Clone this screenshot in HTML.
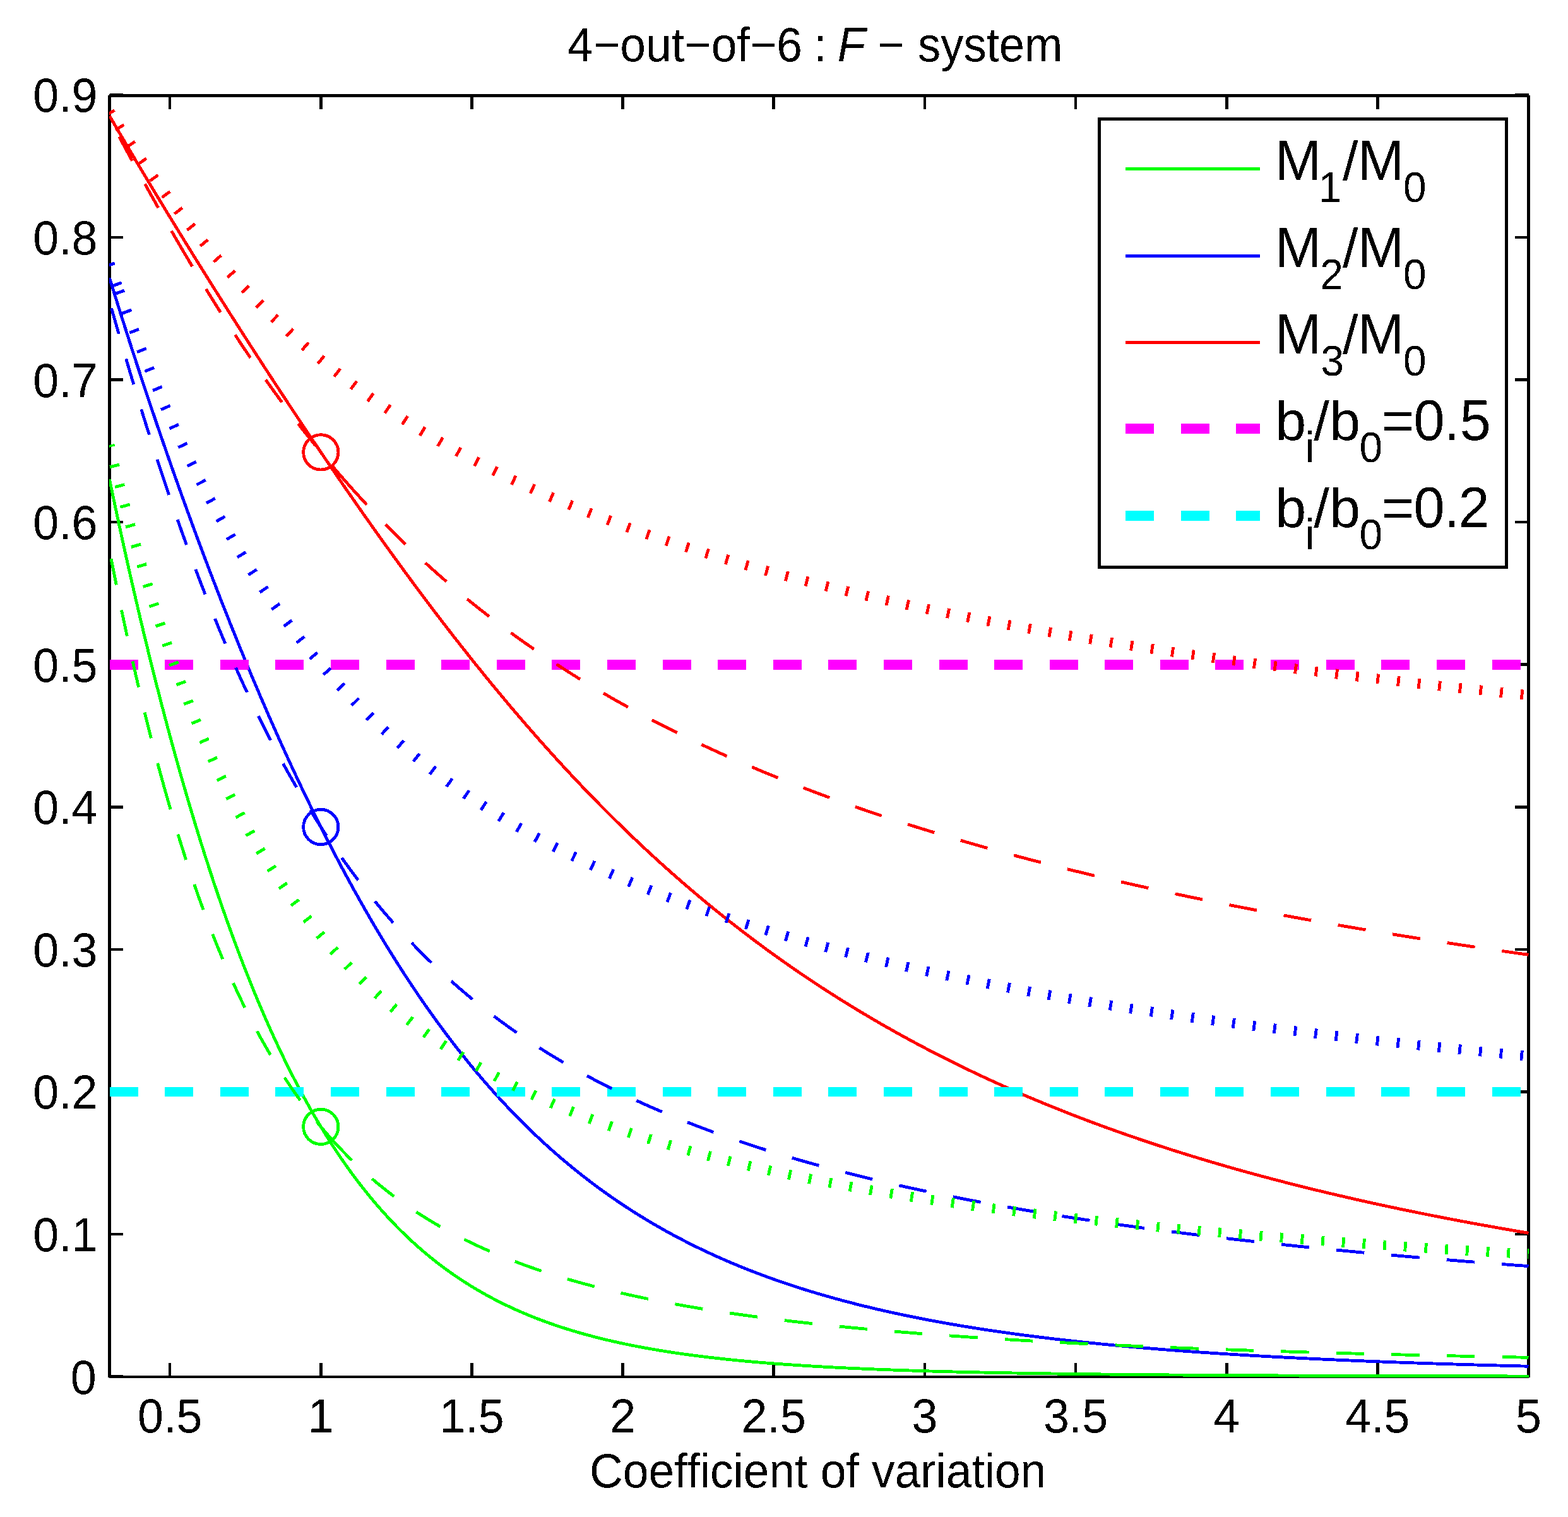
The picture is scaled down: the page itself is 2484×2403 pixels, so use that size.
<!DOCTYPE html>
<html><head><meta charset="utf-8"><title>4-out-of-6 : F - system</title><style>html,body{margin:0;padding:0;background:#fff;overflow:hidden}svg{display:block}</style></head><body>
<svg xmlns="http://www.w3.org/2000/svg" width="2484" height="2403" viewBox="0 0 2484 2403">
<defs><clipPath id="ax"><rect x="173" y="150" width="2249" height="2032"/></clipPath><filter id="bin" x="-5%" y="-20%" width="110%" height="140%" color-interpolation-filters="sRGB"><feComponentTransfer><feFuncA type="discrete" tableValues="0 1"/></feComponentTransfer></filter></defs>
<rect width="2484" height="2403" fill="#fff"/>
<g stroke="#000" fill="none" shape-rendering="crispEdges">
<path d="M173.5,151V2182M2421.5,151V2182" stroke-width="5"/>
<path d="M173,151.5H2422" stroke-width="5"/>
<path d="M173,2181H2422" stroke-width="4"/>
<path d="M269.16,2180.5V2159.0M269.16,151.5V173.0M508.31,2180.5V2159.0M508.31,151.5V173.0M747.46,2180.5V2159.0M747.46,151.5V173.0M986.61,2180.5V2159.0M986.61,151.5V173.0M1225.76,2180.5V2159.0M1225.76,151.5V173.0M1464.91,2180.5V2159.0M1464.91,151.5V173.0M1704.06,2180.5V2159.0M1704.06,151.5V173.0M1943.21,2180.5V2159.0M1943.21,151.5V173.0M2182.36,2180.5V2159.0M2182.36,151.5V173.0M2421.51,2180.5V2159.0M2421.51,151.5V173.0M173.5,2180.60H195.0M2421.5,2180.60H2400.0M173.5,1955.03H195.0M2421.5,1955.03H2400.0M173.5,1729.46H195.0M2421.5,1729.46H2400.0M173.5,1503.89H195.0M2421.5,1503.89H2400.0M173.5,1278.32H195.0M2421.5,1278.32H2400.0M173.5,1052.75H195.0M2421.5,1052.75H2400.0M173.5,827.18H195.0M2421.5,827.18H2400.0M173.5,601.61H195.0M2421.5,601.61H2400.0M173.5,376.04H195.0M2421.5,376.04H2400.0M173.5,150.47H195.0M2421.5,150.47H2400.0" stroke-width="4.6"/>
</g>
<g clip-path="url(#ax)" fill="none" stroke-linejoin="round" shape-rendering="crispEdges">
<polyline points="173.50,759.50 178.28,782.38 183.07,804.98 187.85,827.29 192.63,849.32 197.41,871.08 202.20,892.55 206.98,913.75 211.76,934.67 216.55,955.33 221.33,975.72 226.11,995.84 230.90,1015.70 235.68,1035.29 240.46,1054.63 245.25,1073.71 250.03,1092.53 254.81,1111.10 259.59,1129.42 264.38,1147.49 269.16,1165.32 273.94,1182.89 278.73,1200.23 283.51,1217.32 288.29,1234.18 293.08,1250.80 297.86,1267.18 302.64,1283.33 307.42,1299.24 312.21,1314.93 316.99,1330.39 321.77,1345.63 326.56,1360.64 331.34,1375.43 336.12,1390.00 340.91,1404.36 345.69,1418.49 350.47,1432.42 355.25,1446.13 360.04,1459.63 364.82,1472.92 369.60,1486.01 374.39,1498.89 379.17,1511.57 383.95,1524.05 388.74,1536.34 393.52,1548.42 398.30,1560.31 403.08,1572.01 407.87,1583.52 412.65,1594.84 417.43,1605.98 422.22,1616.93 427.00,1627.70 431.78,1638.29 436.57,1648.70 441.35,1658.93 446.13,1668.99 450.91,1678.88 455.70,1688.60 460.48,1698.15 465.26,1707.53 470.05,1716.75 474.83,1725.81 479.61,1734.71 484.39,1743.45 489.18,1752.04 493.96,1760.47 498.74,1768.75 503.53,1776.88 508.31,1784.86 513.09,1792.70 517.88,1800.40 522.66,1807.95 527.44,1815.36 532.23,1822.64 537.01,1829.78 541.79,1836.79 546.57,1843.66 551.36,1850.41 556.14,1857.03 560.92,1863.52 565.71,1869.89 570.49,1876.14 575.27,1882.27 580.05,1888.28 584.84,1894.18 589.62,1899.96 594.40,1905.62 599.19,1911.18 603.97,1916.63 608.75,1921.98 613.54,1927.21 618.32,1932.35 623.10,1937.38 627.88,1942.31 632.67,1947.15 637.45,1951.89 642.23,1956.53 647.02,1961.08 651.80,1965.54 656.58,1969.92 661.37,1974.20 666.15,1978.39 670.93,1982.51 675.72,1986.53 680.50,1990.48 685.28,1994.35 690.06,1998.13 694.85,2001.84 699.63,2005.48 704.41,2009.04 709.20,2012.52 713.98,2015.94 718.76,2019.29 723.54,2022.56 728.33,2025.77 733.11,2028.91 737.89,2031.99 742.68,2035.00 747.46,2037.96 752.24,2040.85 757.03,2043.68 761.81,2046.45 766.59,2049.16 771.38,2051.82 776.16,2054.42 780.94,2056.97 785.72,2059.46 790.51,2061.91 795.29,2064.30 800.07,2066.64 804.86,2068.93 809.64,2071.18 814.42,2073.37 819.20,2075.53 823.99,2077.63 828.77,2079.70 833.55,2081.71 838.34,2083.69 843.12,2085.63 847.90,2087.52 852.69,2089.38 857.47,2091.20 862.25,2092.97 867.03,2094.72 871.82,2096.42 876.60,2098.09 881.38,2099.72 886.17,2101.32 890.95,2102.89 895.73,2104.42 900.52,2105.92 905.30,2107.39 910.08,2108.83 914.87,2110.24 919.65,2111.62 924.43,2112.97 929.21,2114.30 934.00,2115.59 938.78,2116.86 943.56,2118.10 948.35,2119.32 953.13,2120.51 957.91,2121.67 962.69,2122.82 967.48,2123.93 972.26,2125.03 977.04,2126.10 981.83,2127.15 986.61,2128.18 991.39,2129.18 996.18,2130.17 1000.96,2131.13 1005.74,2132.08 1010.52,2133.00 1015.31,2133.91 1020.09,2134.80 1024.87,2135.67 1029.66,2136.52 1034.44,2137.36 1039.22,2138.17 1044.01,2138.97 1048.79,2139.76 1053.57,2140.52 1058.36,2141.28 1063.14,2142.01 1067.92,2142.74 1072.70,2143.44 1077.49,2144.14 1082.27,2144.81 1087.05,2145.48 1091.84,2146.13 1096.62,2146.77 1101.40,2147.39 1106.18,2148.01 1110.97,2148.61 1115.75,2149.20 1120.53,2149.77 1125.32,2150.34 1130.10,2150.89 1134.88,2151.43 1139.67,2151.96 1144.45,2152.48 1149.23,2152.99 1154.02,2153.50 1158.80,2153.99 1163.58,2154.47 1168.36,2154.94 1173.15,2155.40 1177.93,2155.85 1182.71,2156.29 1187.50,2156.73 1192.28,2157.16 1197.06,2157.57 1201.85,2157.98 1206.63,2158.38 1211.41,2158.78 1216.19,2159.16 1220.98,2159.54 1225.76,2159.91 1230.54,2160.28 1235.33,2160.63 1240.11,2160.98 1244.89,2161.33 1249.67,2161.66 1254.46,2161.99 1259.24,2162.32 1264.02,2162.63 1268.81,2162.94 1273.59,2163.25 1278.37,2163.55 1283.16,2163.84 1287.94,2164.13 1292.72,2164.41 1297.51,2164.69 1302.29,2164.96 1307.07,2165.23 1311.85,2165.49 1316.64,2165.75 1321.42,2166.00 1326.20,2166.24 1330.99,2166.49 1335.77,2166.72 1340.55,2166.96 1345.34,2167.19 1350.12,2167.41 1354.90,2167.63 1359.68,2167.85 1364.47,2168.06 1369.25,2168.27 1374.03,2168.47 1378.82,2168.67 1383.60,2168.87 1388.38,2169.06 1393.17,2169.25 1397.95,2169.44 1402.73,2169.62 1407.51,2169.80 1412.30,2169.98 1417.08,2170.15 1421.86,2170.32 1426.65,2170.49 1431.43,2170.65 1436.21,2170.81 1441.00,2170.97 1445.78,2171.12 1450.56,2171.28 1455.34,2171.43 1460.13,2171.57 1464.91,2171.72 1469.69,2171.86 1474.48,2172.00 1479.26,2172.13 1484.04,2172.27 1488.83,2172.40 1493.61,2172.53 1498.39,2172.66 1503.17,2172.78 1507.96,2172.90 1512.74,2173.02 1517.52,2173.14 1522.31,2173.26 1527.09,2173.37 1531.87,2173.48 1536.65,2173.59 1541.44,2173.70 1546.22,2173.81 1551.00,2173.91 1555.79,2174.02 1560.57,2174.12 1565.35,2174.22 1570.14,2174.31 1574.92,2174.41 1579.70,2174.50 1584.49,2174.60 1589.27,2174.69 1594.05,2174.78 1598.83,2174.86 1603.62,2174.95 1608.40,2175.04 1613.18,2175.12 1617.97,2175.20 1622.75,2175.28 1627.53,2175.36 1632.32,2175.44 1637.10,2175.52 1641.88,2175.59 1646.66,2175.66 1651.45,2175.74 1656.23,2175.81 1661.01,2175.88 1665.80,2175.95 1670.58,2176.02 1675.36,2176.08 1680.15,2176.15 1684.93,2176.21 1689.71,2176.28 1694.49,2176.34 1699.28,2176.40 1704.06,2176.46 1708.84,2176.52 1713.63,2176.58 1718.41,2176.64 1723.19,2176.70 1727.98,2176.75 1732.76,2176.81 1737.54,2176.86 1742.32,2176.91 1747.11,2176.97 1751.89,2177.02 1756.67,2177.07 1761.46,2177.12 1766.24,2177.17 1771.02,2177.21 1775.81,2177.26 1780.59,2177.31 1785.37,2177.36 1790.15,2177.40 1794.94,2177.44 1799.72,2177.49 1804.50,2177.53 1809.29,2177.57 1814.07,2177.62 1818.85,2177.66 1823.64,2177.70 1828.42,2177.74 1833.20,2177.78 1837.98,2177.82 1842.77,2177.85 1847.55,2177.89 1852.33,2177.93 1857.12,2177.96 1861.90,2178.00 1866.68,2178.03 1871.47,2178.07 1876.25,2178.10 1881.03,2178.14 1885.81,2178.17 1890.60,2178.20 1895.38,2178.23 1900.16,2178.27 1904.95,2178.30 1909.73,2178.33 1914.51,2178.36 1919.30,2178.39 1924.08,2178.42 1928.86,2178.45 1933.64,2178.47 1938.43,2178.50 1943.21,2178.53 1947.99,2178.56 1952.78,2178.58 1957.56,2178.61 1962.34,2178.64 1967.12,2178.66 1971.91,2178.69 1976.69,2178.71 1981.47,2178.74 1986.26,2178.76 1991.04,2178.78 1995.82,2178.81 2000.61,2178.83 2005.39,2178.85 2010.17,2178.87 2014.96,2178.90 2019.74,2178.92 2024.52,2178.94 2029.30,2178.96 2034.09,2178.98 2038.87,2179.00 2043.65,2179.02 2048.44,2179.04 2053.22,2179.06 2058.00,2179.08 2062.78,2179.10 2067.57,2179.12 2072.35,2179.14 2077.13,2179.15 2081.92,2179.17 2086.70,2179.19 2091.48,2179.21 2096.27,2179.23 2101.05,2179.24 2105.83,2179.26 2110.61,2179.28 2115.40,2179.29 2120.18,2179.31 2124.96,2179.32 2129.75,2179.34 2134.53,2179.35 2139.31,2179.37 2144.10,2179.38 2148.88,2179.40 2153.66,2179.41 2158.45,2179.43 2163.23,2179.44 2168.01,2179.46 2172.79,2179.47 2177.58,2179.48 2182.36,2179.50 2187.14,2179.51 2191.93,2179.52 2196.71,2179.54 2201.49,2179.55 2206.28,2179.56 2211.06,2179.57 2215.84,2179.59 2220.62,2179.60 2225.41,2179.61 2230.19,2179.62 2234.97,2179.63 2239.76,2179.64 2244.54,2179.65 2249.32,2179.67 2254.11,2179.68 2258.89,2179.69 2263.67,2179.70 2268.45,2179.71 2273.24,2179.72 2278.02,2179.73 2282.80,2179.74 2287.59,2179.75 2292.37,2179.76 2297.15,2179.77 2301.93,2179.78 2306.72,2179.79 2311.50,2179.80 2316.28,2179.81 2321.07,2179.81 2325.85,2179.82 2330.63,2179.83 2335.42,2179.84 2340.20,2179.85 2344.98,2179.86 2349.76,2179.87 2354.55,2179.87 2359.33,2179.88 2364.11,2179.89 2368.90,2179.90 2373.68,2179.91 2378.46,2179.91 2383.25,2179.92 2388.03,2179.93 2392.81,2179.94 2397.60,2179.94 2402.38,2179.95 2407.16,2179.96 2411.94,2179.97 2416.73,2179.97 2421.51,2179.98" stroke="#0f0" stroke-width="4.85"/>
<polyline points="173.50,440.27 178.28,455.74 183.07,471.11 187.85,486.39 192.63,501.56 197.41,516.64 202.20,531.63 206.98,546.52 211.76,561.31 216.55,576.01 221.33,590.62 226.11,605.13 230.90,619.55 235.68,633.88 240.46,648.12 245.25,662.27 250.03,676.33 254.81,690.30 259.59,704.18 264.38,717.97 269.16,731.68 273.94,745.29 278.73,758.82 283.51,772.26 288.29,785.62 293.08,798.89 297.86,812.07 302.64,825.17 307.42,838.18 312.21,851.11 316.99,863.96 321.77,876.72 326.56,889.39 331.34,901.98 336.12,914.49 340.91,926.91 345.69,939.25 350.47,951.51 355.25,963.69 360.04,975.78 364.82,987.79 369.60,999.71 374.39,1011.56 379.17,1023.32 383.95,1035.00 388.74,1046.59 393.52,1058.11 398.30,1069.54 403.08,1080.89 407.87,1092.16 412.65,1103.35 417.43,1114.45 422.22,1125.48 427.00,1136.42 431.78,1147.28 436.57,1158.06 441.35,1168.75 446.13,1179.37 450.91,1189.90 455.70,1200.36 460.48,1210.73 465.26,1221.02 470.05,1231.23 474.83,1241.35 479.61,1251.40 484.39,1261.37 489.18,1271.25 493.96,1281.05 498.74,1290.78 503.53,1300.42 508.31,1309.98 513.09,1319.46 517.88,1328.86 522.66,1338.18 527.44,1347.42 532.23,1356.58 537.01,1365.66 541.79,1374.66 546.57,1383.58 551.36,1392.42 556.14,1401.18 560.92,1409.86 565.71,1418.46 570.49,1426.99 575.27,1435.43 580.05,1443.80 584.84,1452.09 589.62,1460.30 594.40,1468.43 599.19,1476.48 603.97,1484.46 608.75,1492.36 613.54,1500.19 618.32,1507.93 623.10,1515.61 627.88,1523.20 632.67,1530.72 637.45,1538.17 642.23,1545.54 647.02,1552.83 651.80,1560.06 656.58,1567.20 661.37,1574.28 666.15,1581.28 670.93,1588.21 675.72,1595.07 680.50,1601.85 685.28,1608.56 690.06,1615.21 694.85,1621.78 699.63,1628.28 704.41,1634.71 709.20,1641.07 713.98,1647.36 718.76,1653.59 723.54,1659.75 728.33,1665.84 733.11,1671.86 737.89,1677.81 742.68,1683.70 747.46,1689.53 752.24,1695.29 757.03,1700.98 761.81,1706.61 766.59,1712.18 771.38,1717.68 776.16,1723.12 780.94,1728.50 785.72,1733.82 790.51,1739.07 795.29,1744.27 800.07,1749.40 804.86,1754.48 809.64,1759.50 814.42,1764.45 819.20,1769.35 823.99,1774.20 828.77,1778.98 833.55,1783.71 838.34,1788.39 843.12,1793.01 847.90,1797.57 852.69,1802.08 857.47,1806.53 862.25,1810.94 867.03,1815.28 871.82,1819.58 876.60,1823.83 881.38,1828.02 886.17,1832.17 890.95,1836.26 895.73,1840.30 900.52,1844.30 905.30,1848.25 910.08,1852.15 914.87,1856.00 919.65,1859.80 924.43,1863.56 929.21,1867.27 934.00,1870.94 938.78,1874.56 943.56,1878.13 948.35,1881.67 953.13,1885.16 957.91,1888.60 962.69,1892.01 967.48,1895.37 972.26,1898.69 977.04,1901.97 981.83,1905.20 986.61,1908.40 991.39,1911.56 996.18,1914.68 1000.96,1917.76 1005.74,1920.80 1010.52,1923.81 1015.31,1926.77 1020.09,1929.70 1024.87,1932.60 1029.66,1935.46 1034.44,1938.28 1039.22,1941.06 1044.01,1943.82 1048.79,1946.53 1053.57,1949.22 1058.36,1951.87 1063.14,1954.48 1067.92,1957.07 1072.70,1959.62 1077.49,1962.14 1082.27,1964.63 1087.05,1967.08 1091.84,1969.51 1096.62,1971.91 1101.40,1974.27 1106.18,1976.61 1110.97,1978.92 1115.75,1981.20 1120.53,1983.45 1125.32,1985.67 1130.10,1987.86 1134.88,1990.03 1139.67,1992.17 1144.45,1994.28 1149.23,1996.37 1154.02,1998.43 1158.80,2000.46 1163.58,2002.47 1168.36,2004.46 1173.15,2006.42 1177.93,2008.35 1182.71,2010.26 1187.50,2012.15 1192.28,2014.01 1197.06,2015.85 1201.85,2017.67 1206.63,2019.47 1211.41,2021.24 1216.19,2022.99 1220.98,2024.72 1225.76,2026.43 1230.54,2028.11 1235.33,2029.78 1240.11,2031.42 1244.89,2033.05 1249.67,2034.65 1254.46,2036.24 1259.24,2037.80 1264.02,2039.35 1268.81,2040.87 1273.59,2042.38 1278.37,2043.87 1283.16,2045.34 1287.94,2046.80 1292.72,2048.23 1297.51,2049.65 1302.29,2051.05 1307.07,2052.43 1311.85,2053.80 1316.64,2055.15 1321.42,2056.48 1326.20,2057.80 1330.99,2059.10 1335.77,2060.38 1340.55,2061.65 1345.34,2062.91 1350.12,2064.14 1354.90,2065.37 1359.68,2066.58 1364.47,2067.77 1369.25,2068.95 1374.03,2070.12 1378.82,2071.27 1383.60,2072.40 1388.38,2073.53 1393.17,2074.64 1397.95,2075.74 1402.73,2076.82 1407.51,2077.89 1412.30,2078.95 1417.08,2079.99 1421.86,2081.03 1426.65,2082.05 1431.43,2083.06 1436.21,2084.05 1441.00,2085.04 1445.78,2086.01 1450.56,2086.97 1455.34,2087.92 1460.13,2088.86 1464.91,2089.79 1469.69,2090.70 1474.48,2091.61 1479.26,2092.50 1484.04,2093.39 1488.83,2094.26 1493.61,2095.13 1498.39,2095.98 1503.17,2096.82 1507.96,2097.66 1512.74,2098.48 1517.52,2099.30 1522.31,2100.10 1527.09,2100.90 1531.87,2101.69 1536.65,2102.46 1541.44,2103.23 1546.22,2103.99 1551.00,2104.74 1555.79,2105.48 1560.57,2106.22 1565.35,2106.94 1570.14,2107.66 1574.92,2108.37 1579.70,2109.07 1584.49,2109.76 1589.27,2110.45 1594.05,2111.12 1598.83,2111.79 1603.62,2112.45 1608.40,2113.11 1613.18,2113.76 1617.97,2114.39 1622.75,2115.03 1627.53,2115.65 1632.32,2116.27 1637.10,2116.88 1641.88,2117.48 1646.66,2118.08 1651.45,2118.67 1656.23,2119.26 1661.01,2119.83 1665.80,2120.40 1670.58,2120.97 1675.36,2121.53 1680.15,2122.08 1684.93,2122.63 1689.71,2123.17 1694.49,2123.70 1699.28,2124.23 1704.06,2124.75 1708.84,2125.27 1713.63,2125.78 1718.41,2126.28 1723.19,2126.78 1727.98,2127.28 1732.76,2127.77 1737.54,2128.25 1742.32,2128.73 1747.11,2129.20 1751.89,2129.67 1756.67,2130.13 1761.46,2130.59 1766.24,2131.04 1771.02,2131.49 1775.81,2131.93 1780.59,2132.37 1785.37,2132.80 1790.15,2133.23 1794.94,2133.66 1799.72,2134.08 1804.50,2134.49 1809.29,2134.90 1814.07,2135.31 1818.85,2135.71 1823.64,2136.11 1828.42,2136.50 1833.20,2136.89 1837.98,2137.28 1842.77,2137.66 1847.55,2138.04 1852.33,2138.41 1857.12,2138.78 1861.90,2139.15 1866.68,2139.51 1871.47,2139.87 1876.25,2140.22 1881.03,2140.57 1885.81,2140.92 1890.60,2141.26 1895.38,2141.60 1900.16,2141.94 1904.95,2142.27 1909.73,2142.60 1914.51,2142.92 1919.30,2143.25 1924.08,2143.57 1928.86,2143.88 1933.64,2144.19 1938.43,2144.50 1943.21,2144.81 1947.99,2145.11 1952.78,2145.41 1957.56,2145.71 1962.34,2146.00 1967.12,2146.29 1971.91,2146.58 1976.69,2146.87 1981.47,2147.15 1986.26,2147.43 1991.04,2147.71 1995.82,2147.98 2000.61,2148.25 2005.39,2148.52 2010.17,2148.78 2014.96,2149.05 2019.74,2149.31 2024.52,2149.57 2029.30,2149.82 2034.09,2150.07 2038.87,2150.32 2043.65,2150.57 2048.44,2150.82 2053.22,2151.06 2058.00,2151.30 2062.78,2151.54 2067.57,2151.77 2072.35,2152.01 2077.13,2152.24 2081.92,2152.47 2086.70,2152.69 2091.48,2152.92 2096.27,2153.14 2101.05,2153.36 2105.83,2153.58 2110.61,2153.80 2115.40,2154.01 2120.18,2154.22 2124.96,2154.43 2129.75,2154.64 2134.53,2154.84 2139.31,2155.05 2144.10,2155.25 2148.88,2155.45 2153.66,2155.65 2158.45,2155.84 2163.23,2156.04 2168.01,2156.23 2172.79,2156.42 2177.58,2156.61 2182.36,2156.80 2187.14,2156.98 2191.93,2157.16 2196.71,2157.35 2201.49,2157.53 2206.28,2157.70 2211.06,2157.88 2215.84,2158.06 2220.62,2158.23 2225.41,2158.40 2230.19,2158.57 2234.97,2158.74 2239.76,2158.91 2244.54,2159.07 2249.32,2159.24 2254.11,2159.40 2258.89,2159.56 2263.67,2159.72 2268.45,2159.88 2273.24,2160.03 2278.02,2160.19 2282.80,2160.34 2287.59,2160.49 2292.37,2160.64 2297.15,2160.79 2301.93,2160.94 2306.72,2161.09 2311.50,2161.23 2316.28,2161.38 2321.07,2161.52 2325.85,2161.66 2330.63,2161.80 2335.42,2161.94 2340.20,2162.08 2344.98,2162.21 2349.76,2162.35 2354.55,2162.48 2359.33,2162.62 2364.11,2162.75 2368.90,2162.88 2373.68,2163.01 2378.46,2163.14 2383.25,2163.26 2388.03,2163.39 2392.81,2163.51 2397.60,2163.64 2402.38,2163.76 2407.16,2163.88 2411.94,2164.00 2416.73,2164.12 2421.51,2164.24" stroke="#00f" stroke-width="4.85"/>
<polyline points="173.50,183.54 178.28,191.75 183.07,199.94 187.85,208.10 192.63,216.25 197.41,224.37 202.20,232.47 206.98,240.55 211.76,248.62 216.55,256.66 221.33,264.68 226.11,272.68 230.90,280.66 235.68,288.63 240.46,296.58 245.25,304.50 250.03,312.41 254.81,320.30 259.59,328.18 264.38,336.04 269.16,343.88 273.94,351.70 278.73,359.51 283.51,367.30 288.29,375.07 293.08,382.83 297.86,390.57 302.64,398.30 307.42,406.01 312.21,413.70 316.99,421.38 321.77,429.04 326.56,436.69 331.34,444.33 336.12,451.95 340.91,459.55 345.69,467.14 350.47,474.71 355.25,482.27 360.04,489.82 364.82,497.35 369.60,504.87 374.39,512.37 379.17,519.85 383.95,527.33 388.74,534.78 393.52,542.23 398.30,549.66 403.08,557.07 407.87,564.47 412.65,571.86 417.43,579.23 422.22,586.58 427.00,593.93 431.78,601.25 436.57,608.56 441.35,615.86 446.13,623.14 450.91,630.41 455.70,637.66 460.48,644.89 465.26,652.11 470.05,659.32 474.83,666.51 479.61,673.68 484.39,680.84 489.18,687.98 493.96,695.10 498.74,702.21 503.53,709.30 508.31,716.37 513.09,723.43 517.88,730.47 522.66,737.49 527.44,744.50 532.23,751.49 537.01,758.46 541.79,765.41 546.57,772.34 551.36,779.26 556.14,786.15 560.92,793.03 565.71,799.89 570.49,806.73 575.27,813.55 580.05,820.35 584.84,827.13 589.62,833.89 594.40,840.63 599.19,847.35 603.97,854.05 608.75,860.73 613.54,867.39 618.32,874.03 623.10,880.65 627.88,887.24 632.67,893.81 637.45,900.36 642.23,906.89 647.02,913.40 651.80,919.88 656.58,926.35 661.37,932.79 666.15,939.20 670.93,945.59 675.72,951.96 680.50,958.31 685.28,964.63 690.06,970.93 694.85,977.21 699.63,983.46 704.41,989.68 709.20,995.89 713.98,1002.06 718.76,1008.22 723.54,1014.35 728.33,1020.45 733.11,1026.53 737.89,1032.58 742.68,1038.61 747.46,1044.61 752.24,1050.59 757.03,1056.54 761.81,1062.46 766.59,1068.36 771.38,1074.24 776.16,1080.08 780.94,1085.91 785.72,1091.70 790.51,1097.47 795.29,1103.21 800.07,1108.93 804.86,1114.62 809.64,1120.28 814.42,1125.92 819.20,1131.53 823.99,1137.11 828.77,1142.67 833.55,1148.19 838.34,1153.70 843.12,1159.17 847.90,1164.62 852.69,1170.04 857.47,1175.43 862.25,1180.80 867.03,1186.14 871.82,1191.45 876.60,1196.74 881.38,1202.00 886.17,1207.23 890.95,1212.43 895.73,1217.61 900.52,1222.76 905.30,1227.88 910.08,1232.98 914.87,1238.05 919.65,1243.09 924.43,1248.11 929.21,1253.09 934.00,1258.05 938.78,1262.99 943.56,1267.89 948.35,1272.77 953.13,1277.63 957.91,1282.45 962.69,1287.25 967.48,1292.03 972.26,1296.77 977.04,1301.49 981.83,1306.18 986.61,1310.85 991.39,1315.49 996.18,1320.10 1000.96,1324.69 1005.74,1329.25 1010.52,1333.79 1015.31,1338.30 1020.09,1342.78 1024.87,1347.23 1029.66,1351.67 1034.44,1356.07 1039.22,1360.45 1044.01,1364.80 1048.79,1369.13 1053.57,1373.43 1058.36,1377.71 1063.14,1381.96 1067.92,1386.19 1072.70,1390.39 1077.49,1394.57 1082.27,1398.72 1087.05,1402.85 1091.84,1406.95 1096.62,1411.03 1101.40,1415.08 1106.18,1419.11 1110.97,1423.11 1115.75,1427.09 1120.53,1431.05 1125.32,1434.98 1130.10,1438.89 1134.88,1442.78 1139.67,1446.64 1144.45,1450.47 1149.23,1454.29 1154.02,1458.08 1158.80,1461.84 1163.58,1465.59 1168.36,1469.31 1173.15,1473.01 1177.93,1476.68 1182.71,1480.33 1187.50,1483.96 1192.28,1487.57 1197.06,1491.16 1201.85,1494.72 1206.63,1498.26 1211.41,1501.78 1216.19,1505.28 1220.98,1508.75 1225.76,1512.21 1230.54,1515.64 1235.33,1519.05 1240.11,1522.44 1244.89,1525.81 1249.67,1529.15 1254.46,1532.48 1259.24,1535.79 1264.02,1539.07 1268.81,1542.34 1273.59,1545.58 1278.37,1548.80 1283.16,1552.01 1287.94,1555.19 1292.72,1558.35 1297.51,1561.50 1302.29,1564.62 1307.07,1567.72 1311.85,1570.81 1316.64,1573.87 1321.42,1576.92 1326.20,1579.95 1330.99,1582.95 1335.77,1585.94 1340.55,1588.91 1345.34,1591.86 1350.12,1594.80 1354.90,1597.71 1359.68,1600.61 1364.47,1603.48 1369.25,1606.34 1374.03,1609.19 1378.82,1612.01 1383.60,1614.82 1388.38,1617.60 1393.17,1620.38 1397.95,1623.13 1402.73,1625.86 1407.51,1628.58 1412.30,1631.29 1417.08,1633.97 1421.86,1636.64 1426.65,1639.29 1431.43,1641.92 1436.21,1644.54 1441.00,1647.14 1445.78,1649.73 1450.56,1652.30 1455.34,1654.85 1460.13,1657.39 1464.91,1659.91 1469.69,1662.41 1474.48,1664.90 1479.26,1667.38 1484.04,1669.84 1488.83,1672.28 1493.61,1674.71 1498.39,1677.12 1503.17,1679.52 1507.96,1681.90 1512.74,1684.27 1517.52,1686.62 1522.31,1688.96 1527.09,1691.28 1531.87,1693.59 1536.65,1695.89 1541.44,1698.17 1546.22,1700.44 1551.00,1702.69 1555.79,1704.93 1560.57,1707.15 1565.35,1709.36 1570.14,1711.56 1574.92,1713.75 1579.70,1715.92 1584.49,1718.07 1589.27,1720.22 1594.05,1722.35 1598.83,1724.46 1603.62,1726.57 1608.40,1728.66 1613.18,1730.74 1617.97,1732.80 1622.75,1734.86 1627.53,1736.90 1632.32,1738.92 1637.10,1740.94 1641.88,1742.94 1646.66,1744.93 1651.45,1746.91 1656.23,1748.88 1661.01,1750.83 1665.80,1752.78 1670.58,1754.71 1675.36,1756.63 1680.15,1758.53 1684.93,1760.43 1689.71,1762.31 1694.49,1764.19 1699.28,1766.05 1704.06,1767.90 1708.84,1769.74 1713.63,1771.57 1718.41,1773.38 1723.19,1775.19 1727.98,1776.99 1732.76,1778.77 1737.54,1780.54 1742.32,1782.31 1747.11,1784.06 1751.89,1785.80 1756.67,1787.53 1761.46,1789.26 1766.24,1790.97 1771.02,1792.67 1775.81,1794.36 1780.59,1796.04 1785.37,1797.71 1790.15,1799.37 1794.94,1801.02 1799.72,1802.66 1804.50,1804.29 1809.29,1805.92 1814.07,1807.53 1818.85,1809.13 1823.64,1810.72 1828.42,1812.31 1833.20,1813.88 1837.98,1815.45 1842.77,1817.00 1847.55,1818.55 1852.33,1820.09 1857.12,1821.62 1861.90,1823.14 1866.68,1824.65 1871.47,1826.15 1876.25,1827.64 1881.03,1829.13 1885.81,1830.61 1890.60,1832.07 1895.38,1833.53 1900.16,1834.98 1904.95,1836.43 1909.73,1837.86 1914.51,1839.29 1919.30,1840.70 1924.08,1842.11 1928.86,1843.51 1933.64,1844.91 1938.43,1846.29 1943.21,1847.67 1947.99,1849.04 1952.78,1850.40 1957.56,1851.76 1962.34,1853.10 1967.12,1854.44 1971.91,1855.77 1976.69,1857.09 1981.47,1858.41 1986.26,1859.72 1991.04,1861.02 1995.82,1862.31 2000.61,1863.60 2005.39,1864.88 2010.17,1866.15 2014.96,1867.42 2019.74,1868.67 2024.52,1869.92 2029.30,1871.17 2034.09,1872.40 2038.87,1873.63 2043.65,1874.86 2048.44,1876.07 2053.22,1877.28 2058.00,1878.49 2062.78,1879.68 2067.57,1880.87 2072.35,1882.05 2077.13,1883.23 2081.92,1884.40 2086.70,1885.56 2091.48,1886.72 2096.27,1887.87 2101.05,1889.01 2105.83,1890.15 2110.61,1891.28 2115.40,1892.41 2120.18,1893.53 2124.96,1894.64 2129.75,1895.75 2134.53,1896.85 2139.31,1897.94 2144.10,1899.03 2148.88,1900.12 2153.66,1901.19 2158.45,1902.26 2163.23,1903.33 2168.01,1904.39 2172.79,1905.44 2177.58,1906.49 2182.36,1907.54 2187.14,1908.57 2191.93,1909.60 2196.71,1910.63 2201.49,1911.65 2206.28,1912.67 2211.06,1913.68 2215.84,1914.68 2220.62,1915.68 2225.41,1916.67 2230.19,1917.66 2234.97,1918.64 2239.76,1919.62 2244.54,1920.60 2249.32,1921.56 2254.11,1922.53 2258.89,1923.48 2263.67,1924.44 2268.45,1925.38 2273.24,1926.33 2278.02,1927.26 2282.80,1928.20 2287.59,1929.12 2292.37,1930.05 2297.15,1930.97 2301.93,1931.88 2306.72,1932.79 2311.50,1933.69 2316.28,1934.59 2321.07,1935.49 2325.85,1936.38 2330.63,1937.26 2335.42,1938.14 2340.20,1939.02 2344.98,1939.89 2349.76,1940.76 2354.55,1941.62 2359.33,1942.48 2364.11,1943.33 2368.90,1944.18 2373.68,1945.03 2378.46,1945.87 2383.25,1946.70 2388.03,1947.54 2392.81,1948.37 2397.60,1949.19 2402.38,1950.01 2407.16,1950.82 2411.94,1951.64 2416.73,1952.44 2421.51,1953.25" stroke="#f00" stroke-width="4.85"/>
<path d="M173.50,1052.75H2421.51" stroke="#f0f" stroke-width="15.8" stroke-dasharray="45 42.6"/>
<path d="M173.50,1729.46H2421.51" stroke="#0ff" stroke-width="15.8" stroke-dasharray="45 42.6"/>
<path d="M131.78,640.45 132.24,643.21 132.70,645.98 133.17,648.74 133.63,651.51 134.10,654.28 134.56,657.04 135.03,659.81 135.50,662.57 135.97,665.34 136.43,668.10 136.90,670.87 137.38,673.63 137.85,676.40 138.32,679.16 138.79,681.93M145.75,722.08 146.24,724.85 146.73,727.61 147.21,730.37 147.70,733.14 148.19,735.90 148.68,738.66 149.17,741.42 149.66,744.19 150.15,746.95 150.65,749.71 151.14,752.47 151.64,755.23 152.13,758.00 152.63,760.76 153.13,763.52M160.46,803.63 160.97,806.39 161.48,809.15 162.00,811.91 162.51,814.67 163.03,817.43 163.55,820.18 164.06,822.94 164.58,825.70 165.10,828.46 165.62,831.22 166.14,833.98 166.67,836.74 167.19,839.49 167.72,842.25 168.24,845.01M176.00,885.06 176.55,887.81 177.09,890.57 177.63,893.33 178.18,896.08 178.73,898.84 179.28,901.59 179.83,904.34 180.38,907.10 180.93,909.85 181.48,912.61 182.04,915.36 182.59,918.11 183.15,920.87 183.70,923.62 184.26,926.37M192.52,966.35 193.10,969.10 193.68,971.85 194.26,974.60 194.84,977.35 195.43,980.10 196.01,982.85 196.60,985.60 197.18,988.35 197.77,991.10 198.36,993.84 198.96,996.59 199.55,999.34 200.14,1002.09 200.74,1004.83 201.34,1007.58M210.17,1047.47 210.79,1050.21 211.42,1052.96 212.04,1055.70 212.66,1058.44 213.29,1061.18 213.92,1063.93 214.55,1066.67 215.18,1069.41 215.81,1072.15 216.45,1074.89 217.08,1077.63 217.72,1080.37 218.36,1083.11 219.00,1085.85 219.64,1088.59M229.16,1128.36 229.83,1131.10 230.51,1133.84 231.18,1136.57 231.85,1139.31 232.53,1142.04 233.21,1144.77 233.89,1147.51 234.57,1150.24 235.26,1152.97 235.94,1155.70 236.63,1158.43 237.32,1161.17 238.01,1163.90 238.71,1166.63 239.40,1169.36M249.74,1208.98 250.47,1211.70 251.20,1214.43 251.93,1217.15 252.67,1219.87 253.41,1222.60 254.14,1225.32 254.89,1228.04 255.63,1230.76 256.38,1233.48 257.12,1236.20 257.88,1238.92 258.63,1241.64 259.38,1244.36 260.14,1247.08 260.90,1249.79M258.59,1241.50 259.34,1244.22 260.10,1246.94 260.86,1249.66 261.63,1252.37 262.39,1255.09 263.16,1257.81 263.93,1260.52 264.70,1263.24 265.47,1265.95 266.25,1268.67 267.03,1271.38 267.81,1274.09 268.60,1276.81 269.38,1279.52 270.17,1282.23M281.95,1321.56 282.78,1324.26 283.62,1326.96 284.46,1329.66 285.30,1332.37 286.14,1335.07 286.99,1337.77 287.84,1340.46 288.69,1343.16 289.55,1345.86 290.41,1348.55 291.27,1351.25 292.13,1353.94 293.00,1356.64 293.87,1359.33 294.74,1362.02M307.82,1401.05 308.74,1403.73 309.67,1406.41 310.61,1409.09 311.54,1411.77 312.49,1414.44 313.43,1417.12 314.38,1419.80 315.33,1422.47 316.29,1425.14 317.24,1427.81 318.21,1430.48 319.17,1433.15 320.14,1435.82 321.12,1438.48 322.09,1441.14M336.77,1479.75 337.81,1482.40 338.86,1485.05 339.91,1487.70 340.97,1490.35 342.03,1492.99 343.10,1495.63 344.17,1498.28 345.24,1500.91 346.32,1503.55 347.40,1506.19 348.49,1508.82 349.58,1511.45 350.68,1514.08 351.78,1516.71 352.89,1519.33M369.56,1557.34 370.75,1559.95 371.94,1562.55 373.14,1565.15 374.35,1567.75 375.56,1570.35 376.78,1572.95 378.00,1575.54 379.23,1578.13 380.46,1580.71 381.70,1583.30 382.95,1585.88 384.20,1588.46 385.45,1591.03 386.71,1593.60 387.98,1596.17M407.15,1633.30 408.52,1635.84 409.90,1638.38 411.29,1640.91 412.68,1643.44 414.08,1645.97 415.49,1648.49 416.90,1651.01 418.32,1653.52 419.75,1656.03 421.18,1658.54 422.62,1661.05 424.07,1663.54 425.52,1666.04 426.98,1668.53 428.45,1671.02M450.72,1706.83 452.32,1709.27 453.93,1711.70 455.54,1714.14 457.17,1716.56 458.80,1718.98 460.44,1721.40 462.09,1723.81 463.75,1726.21 465.41,1728.61 467.08,1731.00 468.76,1733.39 470.45,1735.77 472.15,1738.15 473.85,1740.52 475.57,1742.88M501.58,1776.71 503.46,1779.00 505.34,1781.29 507.22,1783.56 509.12,1785.83 511.03,1788.09 512.94,1790.35 514.87,1792.59 516.80,1794.83 518.74,1797.06 520.70,1799.29 522.66,1801.50 524.63,1803.71 526.61,1805.91 528.59,1808.10 530.59,1810.28M526.81,1806.13 528.80,1808.33 530.81,1810.52 532.82,1812.70 534.84,1814.87 536.87,1817.03 538.91,1819.19 540.96,1821.33 543.02,1823.47 545.08,1825.60 547.16,1827.72 549.24,1829.83 551.34,1831.93 553.44,1834.02 555.55,1836.11 557.67,1838.18M589.48,1867.26 591.74,1869.18 594.00,1871.10 596.27,1873.00 598.56,1874.90 600.85,1876.78 603.14,1878.66 605.45,1880.52 607.77,1882.38 610.09,1884.23 612.42,1886.06 614.76,1887.88 617.11,1889.70 619.46,1891.50 621.83,1893.30 624.20,1895.08M659.49,1919.80 661.98,1921.42 664.47,1923.03 666.97,1924.63 669.48,1926.22 671.99,1927.79 674.51,1929.36 677.03,1930.92 679.56,1932.47 682.10,1934.00 684.65,1935.53 687.20,1937.04 689.75,1938.55 692.32,1940.04 694.88,1941.53 697.46,1943.00M735.49,1963.26 738.15,1964.58 740.81,1965.89 743.48,1967.19 746.15,1968.48 748.83,1969.76 751.51,1971.02 754.20,1972.28 756.89,1973.53 759.58,1974.78 762.28,1976.01 764.98,1977.23 767.69,1978.44 770.40,1979.65 773.12,1980.84 775.84,1982.03M815.76,1998.25 818.54,1999.30 821.32,2000.34 824.10,2001.38 826.88,2002.40 829.67,2003.42 832.45,2004.43 835.25,2005.44 838.04,2006.43 840.84,2007.42 843.64,2008.40 846.44,2009.37 849.25,2010.33 852.06,2011.29 854.87,2012.24 857.68,2013.18M898.81,2026.05 901.66,2026.88 904.51,2027.71 907.36,2028.53 910.21,2029.34 913.07,2030.15 915.92,2030.95 918.78,2031.75 921.64,2032.54 924.50,2033.32 927.37,2034.09 930.23,2034.87 933.10,2035.63 935.97,2036.39 938.84,2037.14 941.71,2037.89M983.57,2048.11 986.47,2048.78 989.36,2049.43 992.25,2050.09 995.15,2050.74 998.04,2051.38 1000.94,2052.02 1003.84,2052.65 1006.74,2053.28 1009.64,2053.90 1012.54,2054.52 1015.44,2055.14 1018.35,2055.75 1021.25,2056.35 1024.16,2056.95 1027.06,2057.55M1069.38,2065.74 1072.29,2066.27 1075.21,2066.80 1078.13,2067.32 1081.05,2067.84 1083.98,2068.36 1086.90,2068.87 1089.82,2069.38 1092.74,2069.89 1095.67,2070.39 1098.59,2070.89 1101.52,2071.38 1104.44,2071.88 1107.37,2072.36 1110.30,2072.85 1113.22,2073.33M1155.81,2079.95 1158.75,2080.39 1161.68,2080.81 1164.62,2081.24 1167.55,2081.66 1170.49,2082.08 1173.43,2082.50 1176.36,2082.92 1179.30,2083.33 1182.24,2083.74 1185.18,2084.14 1188.12,2084.55 1191.06,2084.95 1194.00,2085.34 1196.94,2085.74 1199.88,2086.13M1242.64,2091.55 1245.58,2091.91 1248.53,2092.26 1251.47,2092.61 1254.42,2092.96 1257.37,2093.30 1260.31,2093.65 1263.26,2093.99 1266.21,2094.33 1269.15,2094.66 1272.10,2095.00 1275.05,2095.33 1278.00,2095.66 1280.95,2095.99 1283.90,2096.32 1286.84,2096.64M1329.71,2101.13 1332.66,2101.42 1335.61,2101.72 1338.57,2102.01 1341.52,2102.30 1344.47,2102.58 1347.42,2102.87 1350.38,2103.15 1353.33,2103.44 1356.28,2103.72 1359.24,2104.00 1362.19,2104.27 1365.15,2104.55 1368.10,2104.82 1371.05,2105.09 1374.01,2105.36M1416.94,2109.12 1419.90,2109.37 1422.86,2109.62 1425.81,2109.86 1428.77,2110.10 1431.73,2110.34 1434.68,2110.58 1437.64,2110.82 1440.60,2111.06 1443.55,2111.30 1446.51,2111.53 1449.47,2111.77 1452.43,2112.00 1455.38,2112.23 1458.34,2112.46 1461.30,2112.69M1504.28,2115.86 1507.24,2116.07 1510.20,2116.28 1513.16,2116.49 1516.12,2116.69 1519.08,2116.90 1522.04,2117.10 1525.00,2117.31 1527.96,2117.51 1530.92,2117.71 1533.88,2117.91 1536.84,2118.11 1539.80,2118.31 1542.76,2118.50 1545.72,2118.70 1548.68,2118.89M1591.69,2121.60 1594.66,2121.78 1597.62,2121.96 1600.58,2122.14 1603.54,2122.32 1606.50,2122.49 1609.46,2122.67 1612.42,2122.84 1615.39,2123.01 1618.35,2123.18 1621.31,2123.36 1624.27,2123.53 1627.23,2123.70 1630.19,2123.86 1633.16,2124.03 1636.12,2124.20M1679.16,2126.54 1682.12,2126.69 1685.08,2126.84 1688.04,2127.00 1691.01,2127.15 1693.97,2127.30 1696.93,2127.45 1699.89,2127.60 1702.86,2127.75 1705.82,2127.90 1708.78,2128.05 1711.75,2128.20 1714.71,2128.34 1717.67,2128.49 1720.64,2128.63 1723.60,2128.78M1766.65,2130.81 1769.61,2130.94 1772.58,2131.07 1775.54,2131.21 1778.51,2131.34 1781.47,2131.47 1784.43,2131.60 1787.40,2131.73 1790.36,2131.86 1793.32,2131.99 1796.29,2132.12 1799.25,2132.25 1802.22,2132.38 1805.18,2132.51 1808.14,2132.63 1811.11,2132.76M1854.17,2134.53 1857.14,2134.65 1860.10,2134.77 1863.06,2134.88 1866.03,2135.00 1868.99,2135.12 1871.96,2135.23 1874.92,2135.35 1877.89,2135.46 1880.85,2135.57 1883.82,2135.69 1886.78,2135.80 1889.74,2135.91 1892.71,2136.02 1895.67,2136.13 1898.64,2136.25M1941.71,2137.80 1944.68,2137.91 1947.64,2138.01 1950.60,2138.11 1953.57,2138.22 1956.53,2138.32 1959.50,2138.42 1962.46,2138.52 1965.43,2138.62 1968.39,2138.72 1971.36,2138.82 1974.32,2138.92 1977.29,2139.02 1980.25,2139.12 1983.22,2139.22 1986.18,2139.32M2029.26,2140.70 2032.23,2140.79 2035.19,2140.88 2038.16,2140.97 2041.12,2141.06 2044.09,2141.15 2047.05,2141.24 2050.02,2141.33 2052.98,2141.42 2055.95,2141.51 2058.92,2141.60 2061.88,2141.69 2064.85,2141.78 2067.81,2141.86 2070.78,2141.95 2073.74,2142.04M2116.82,2143.27 2119.79,2143.35 2122.76,2143.43 2125.72,2143.51 2128.69,2143.59 2131.65,2143.67 2134.62,2143.75 2137.58,2143.83 2140.55,2143.91 2143.51,2143.99 2146.48,2144.07 2149.45,2144.15 2152.41,2144.23 2155.38,2144.31 2158.34,2144.39 2161.31,2144.46M2204.39,2145.56 2207.36,2145.64 2210.33,2145.71 2213.29,2145.78 2216.26,2145.86 2219.22,2145.93 2222.19,2146.00 2225.15,2146.07 2228.12,2146.14 2231.09,2146.21 2234.05,2146.29 2237.02,2146.36 2239.98,2146.43 2242.95,2146.50 2245.92,2146.57 2248.88,2146.64M2291.97,2147.62 2294.94,2147.69 2297.90,2147.76 2300.87,2147.82 2303.83,2147.89 2306.80,2147.95 2309.77,2148.02 2312.73,2148.08 2315.70,2148.15 2318.66,2148.21 2321.63,2148.28 2324.60,2148.34 2327.56,2148.40 2330.53,2148.47 2333.49,2148.53 2336.46,2148.59M2379.55,2149.48 2382.55,2149.54 2385.54,2149.60 2388.54,2149.66 2391.54,2149.72 2394.54,2149.78 2397.53,2149.84 2400.53,2149.90 2403.53,2149.96 2406.52,2150.02 2409.52,2150.08 2412.52,2150.14 2415.52,2150.20 2418.51,2150.25 2421.51,2150.31" stroke="#0f0" stroke-width="4.85"/>
<path d="M132.65,327.58 133.38,330.30 134.10,333.03 134.83,335.75 135.55,338.48 136.28,341.20 137.00,343.93 137.73,346.65 138.46,349.38 139.19,352.10 139.92,354.82 140.65,357.55 141.38,360.27 142.11,362.99 142.84,365.72 143.57,368.44M154.30,407.99 155.04,410.71 155.79,413.43 156.53,416.15 157.28,418.87 158.02,421.59 158.77,424.31 159.52,427.03 160.27,429.75 161.02,432.47 161.77,435.19 162.52,437.91 163.27,440.63 164.03,443.35 164.78,446.07 165.54,448.79M176.60,488.27 177.37,490.98 178.14,493.70 178.91,496.41 179.68,499.13 180.45,501.85 181.23,504.56 182.00,507.28 182.78,509.99 183.55,512.70 184.33,515.42 185.11,518.13 185.89,520.85 186.67,523.56 187.45,526.27 188.23,528.99M199.71,568.38 200.51,571.09 201.31,573.80 202.11,576.51 202.91,579.22 203.71,581.93 204.52,584.63 205.32,587.34 206.13,590.05 206.94,592.76 207.75,595.47 208.56,598.17 209.37,600.88 210.18,603.59 210.99,606.29 211.81,609.00M223.79,648.28 224.62,650.98 225.46,653.68 226.30,656.39 227.14,659.09 227.98,661.79 228.82,664.49 229.66,667.19 230.51,669.89 231.35,672.59 232.20,675.29 233.05,677.98 233.90,680.68 234.75,683.38 235.60,686.08 236.46,688.77M249.04,727.92 249.92,730.61 250.80,733.30 251.68,736.00 252.56,738.69 253.44,741.38 254.33,744.07 255.22,746.76 256.11,749.45 257.00,752.13 257.89,754.82 258.79,757.51 259.68,760.20 260.58,762.88 261.48,765.57 262.38,768.25M254.24,743.79 255.13,746.48 256.02,749.17 256.91,751.86 257.80,754.55 258.69,757.24 259.59,759.92 260.49,762.61 261.39,765.30 262.29,767.98 263.19,770.67 264.10,773.35 265.00,776.04 265.91,778.72 266.82,781.40 267.73,784.09M281.18,823.02 282.12,825.70 283.06,828.38 284.01,831.05 284.96,833.73 285.91,836.40 286.86,839.08 287.81,841.75 288.76,844.42 289.72,847.09 290.68,849.76 291.64,852.43 292.60,855.10 293.57,857.77 294.53,860.44 295.50,863.11M309.83,901.81 310.83,904.47 311.84,907.13 312.84,909.79 313.86,912.45 314.87,915.11 315.88,917.77 316.90,920.42 317.92,923.08 318.94,925.73 319.97,928.38 321.00,931.04 322.03,933.69 323.06,936.34 324.09,938.99 325.13,941.63M340.49,980.05 341.56,982.69 342.65,985.33 343.73,987.96 344.82,990.60 345.90,993.23 347.00,995.87 348.09,998.50 349.19,1001.13 350.29,1003.76 351.39,1006.39 352.50,1009.02 353.60,1011.65 354.72,1014.28 355.83,1016.90 356.95,1019.53M373.52,1057.56 374.69,1060.18 375.86,1062.79 377.03,1065.40 378.21,1068.00 379.39,1070.61 380.57,1073.22 381.75,1075.82 382.94,1078.42 384.13,1081.03 385.33,1083.62 386.53,1086.22 387.73,1088.82 388.93,1091.42 390.14,1094.01 391.35,1096.60M409.37,1134.15 410.64,1136.73 411.91,1139.31 413.19,1141.88 414.47,1144.45 415.75,1147.02 417.04,1149.59 418.33,1152.16 419.63,1154.72 420.93,1157.28 422.23,1159.84 423.54,1162.40 424.85,1164.96 426.16,1167.51 427.48,1170.07 428.80,1172.62M448.50,1209.54 449.89,1212.07 451.28,1214.60 452.68,1217.12 454.08,1219.65 455.49,1222.17 456.90,1224.69 458.32,1227.21 459.74,1229.72 461.17,1232.23 462.59,1234.74 464.03,1237.25 465.47,1239.76 466.91,1242.26 468.35,1244.76 469.80,1247.26M491.45,1283.35 492.99,1285.82 494.52,1288.29 496.06,1290.75 497.61,1293.22 499.16,1295.67 500.71,1298.13 502.27,1300.58 503.84,1303.03 505.41,1305.48 506.98,1307.92 508.56,1310.36 510.14,1312.80 511.73,1315.24 513.33,1317.67 514.93,1320.09M493.84,1287.20 495.38,1289.66 496.92,1292.13 498.47,1294.59 500.03,1297.05 501.58,1299.50 503.15,1301.96 504.72,1304.40 506.29,1306.85 507.87,1309.29 509.45,1311.73 511.04,1314.17 512.63,1316.60 514.23,1319.03 515.83,1321.46 517.44,1323.88M541.45,1358.84 543.15,1361.22 544.85,1363.61 546.56,1365.99 548.28,1368.36 550.00,1370.73 551.72,1373.10 553.46,1375.47 555.19,1377.83 556.93,1380.18 558.68,1382.54 560.43,1384.88 562.19,1387.23 563.96,1389.57 565.73,1391.90 567.50,1394.24M594.01,1427.77 595.89,1430.06 597.77,1432.33 599.66,1434.61 601.55,1436.88 603.45,1439.14 605.36,1441.40 607.27,1443.66 609.18,1445.91 611.10,1448.16 613.03,1450.40 614.97,1452.63 616.90,1454.86 618.85,1457.09 620.80,1459.31 622.76,1461.53M651.92,1493.25 653.97,1495.39 656.03,1497.53 658.09,1499.66 660.16,1501.78 662.24,1503.90 664.32,1506.02 666.40,1508.13 668.50,1510.23 670.59,1512.33 672.70,1514.42 674.81,1516.51 676.92,1518.59 679.04,1520.66 681.17,1522.73 683.30,1524.79M714.90,1554.10 717.11,1556.07 719.34,1558.04 721.56,1560.00 723.80,1561.95 726.04,1563.90 728.28,1565.84 730.53,1567.77 732.79,1569.70 735.05,1571.62 737.31,1573.53 739.58,1575.44 741.86,1577.35 744.14,1579.24 746.43,1581.13 748.72,1583.02M782.58,1609.67 784.95,1611.46 787.33,1613.24 789.71,1615.01 792.09,1616.77 794.48,1618.53 796.87,1620.29 799.27,1622.03 801.67,1623.77 804.08,1625.51 806.49,1627.23 808.91,1628.96 811.33,1630.67 813.76,1632.38 816.19,1634.08 818.62,1635.77M854.48,1659.67 856.99,1661.27 859.49,1662.86 862.00,1664.44 864.51,1666.02 867.03,1667.59 869.55,1669.15 872.08,1670.71 874.61,1672.26 877.14,1673.80 879.68,1675.34 882.22,1676.87 884.76,1678.40 887.31,1679.92 889.86,1681.43 892.42,1682.93M929.95,1704.12 932.56,1705.53 935.17,1706.94 937.79,1708.34 940.41,1709.73 943.03,1711.12 945.65,1712.50 948.28,1713.87 950.92,1715.24 953.55,1716.60 956.19,1717.96 958.83,1719.31 961.47,1720.66 964.12,1722.00 966.77,1723.33 969.42,1724.66M1008.28,1743.30 1010.98,1744.54 1013.68,1745.77 1016.38,1747.00 1019.08,1748.22 1021.78,1749.44 1024.49,1750.65 1027.20,1751.86 1029.91,1753.06 1032.63,1754.26 1035.35,1755.45 1038.07,1756.63 1040.79,1757.81 1043.51,1758.99 1046.24,1760.16 1048.97,1761.32M1088.85,1777.66 1091.61,1778.75 1094.37,1779.83 1097.14,1780.90 1099.90,1781.97 1102.67,1783.04 1105.44,1784.10 1108.21,1785.16 1110.99,1786.21 1113.76,1787.26 1116.54,1788.30 1119.32,1789.34 1122.10,1790.37 1124.88,1791.40 1127.67,1792.43 1130.45,1793.44M1171.11,1807.75 1173.92,1808.70 1176.73,1809.65 1179.54,1810.59 1182.36,1811.53 1185.17,1812.46 1187.99,1813.39 1190.81,1814.32 1193.63,1815.24 1196.45,1816.16 1199.27,1817.07 1202.10,1817.98 1204.92,1818.89 1207.75,1819.79 1210.58,1820.69 1213.41,1821.58M1254.64,1834.13 1257.49,1834.96 1260.33,1835.79 1263.18,1836.62 1266.03,1837.44 1268.88,1838.26 1271.74,1839.08 1274.59,1839.89 1277.44,1840.70 1280.30,1841.51 1283.15,1842.31 1286.01,1843.11 1288.87,1843.90 1291.73,1844.69 1294.59,1845.48 1297.45,1846.27M1339.11,1857.30 1341.99,1858.04 1344.86,1858.77 1347.74,1859.50 1350.61,1860.22 1353.49,1860.95 1356.37,1861.67 1359.25,1862.38 1362.13,1863.10 1365.01,1863.81 1367.89,1864.51 1370.77,1865.22 1373.65,1865.92 1376.54,1866.62 1379.42,1867.31 1382.31,1868.01M1424.29,1877.75 1427.18,1878.40 1430.08,1879.05 1432.97,1879.69 1435.87,1880.33 1438.77,1880.97 1441.67,1881.61 1444.56,1882.24 1447.46,1882.87 1450.36,1883.50 1453.26,1884.13 1456.16,1884.75 1459.06,1885.37 1461.96,1885.99 1464.87,1886.61 1467.77,1887.22M1509.99,1895.87 1512.90,1896.44 1515.81,1897.02 1518.72,1897.59 1521.64,1898.16 1524.55,1898.73 1527.46,1899.29 1530.37,1899.86 1533.29,1900.42 1536.20,1900.98 1539.11,1901.54 1542.03,1902.09 1544.94,1902.64 1547.86,1903.19 1550.77,1903.74 1553.69,1904.29M1596.09,1911.99 1599.02,1912.51 1601.94,1913.02 1604.86,1913.53 1607.78,1914.04 1610.71,1914.55 1613.63,1915.05 1616.55,1915.56 1619.48,1916.06 1622.40,1916.56 1625.33,1917.05 1628.25,1917.55 1631.18,1918.04 1634.10,1918.54 1637.03,1919.03 1639.95,1919.52M1682.50,1926.41 1685.43,1926.88 1688.36,1927.34 1691.29,1927.79 1694.22,1928.25 1697.15,1928.70 1700.08,1929.16 1703.02,1929.61 1705.95,1930.06 1708.88,1930.51 1711.81,1930.96 1714.75,1931.40 1717.68,1931.84 1720.61,1932.29 1723.55,1932.73 1726.48,1933.17M1769.13,1939.37 1772.07,1939.79 1775.01,1940.20 1777.95,1940.61 1780.88,1941.03 1783.82,1941.44 1786.76,1941.84 1789.70,1942.25 1792.64,1942.66 1795.58,1943.06 1798.52,1943.46 1801.46,1943.87 1804.40,1944.27 1807.33,1944.66 1810.27,1945.06 1813.21,1945.46M1855.95,1951.07 1858.89,1951.44 1861.83,1951.82 1864.78,1952.19 1867.72,1952.56 1870.66,1952.93 1873.61,1953.30 1876.55,1953.67 1879.49,1954.04 1882.44,1954.41 1885.38,1954.77 1888.33,1955.13 1891.27,1955.50 1894.22,1955.86 1897.16,1956.22 1900.11,1956.58M1942.90,1961.67 1945.85,1962.01 1948.80,1962.35 1951.75,1962.69 1954.69,1963.02 1957.64,1963.36 1960.59,1963.70 1963.54,1964.03 1966.48,1964.37 1969.43,1964.70 1972.38,1965.03 1975.33,1965.36 1978.28,1965.69 1981.22,1966.02 1984.17,1966.35 1987.12,1966.68M2029.97,1971.31 2032.92,1971.62 2035.87,1971.93 2038.82,1972.24 2041.77,1972.55 2044.72,1972.86 2047.67,1973.17 2050.63,1973.47 2053.58,1973.78 2056.53,1974.08 2059.48,1974.38 2062.43,1974.69 2065.38,1974.99 2068.33,1975.29 2071.28,1975.59 2074.24,1975.88M2117.13,1980.12 2120.08,1980.41 2123.03,1980.69 2125.99,1980.97 2128.94,1981.26 2131.89,1981.54 2134.85,1981.82 2137.80,1982.10 2140.75,1982.38 2143.71,1982.66 2146.66,1982.94 2149.61,1983.21 2152.57,1983.49 2155.52,1983.76 2158.47,1984.04 2161.43,1984.31M2204.35,1988.20 2207.31,1988.46 2210.26,1988.72 2213.22,1988.98 2216.17,1989.24 2219.13,1989.50 2222.08,1989.76 2225.04,1990.02 2228.00,1990.27 2230.95,1990.53 2233.91,1990.79 2236.86,1991.04 2239.82,1991.29 2242.77,1991.55 2245.73,1991.80 2248.69,1992.05M2291.64,1995.63 2294.59,1995.87 2297.55,1996.11 2300.51,1996.35 2303.47,1996.59 2306.42,1996.83 2309.38,1997.07 2312.34,1997.31 2315.29,1997.54 2318.25,1997.78 2321.21,1998.01 2324.17,1998.25 2327.12,1998.48 2330.08,1998.72 2333.04,1998.95 2336.00,1999.18M2378.97,2002.49 2381.80,2002.70 2384.64,2002.91 2387.48,2003.13 2390.31,2003.34 2393.15,2003.55 2395.98,2003.76 2398.82,2003.97 2401.66,2004.18 2404.49,2004.39 2407.33,2004.60 2410.16,2004.81 2413.00,2005.02 2415.84,2005.22 2418.67,2005.43 2421.51,2005.64" stroke="#00f" stroke-width="4.85"/>
<path d="M125.67,99.01 126.73,100.98 127.78,102.96 128.84,104.93M148.59,141.83 149.95,144.37 151.31,146.91 152.67,149.45 154.03,151.99 155.39,154.53 156.75,157.07 158.11,159.61 159.47,162.15 160.83,164.69 162.19,167.23 163.55,169.76 164.91,172.30 166.27,174.84 167.64,177.38 169.00,179.92M188.85,216.78 190.22,219.31 191.59,221.85 192.97,224.38 194.34,226.92 195.71,229.45 197.09,231.99 198.46,234.52 199.84,237.05 201.22,239.58 202.59,242.12 203.97,244.65 205.35,247.18 206.73,249.71 208.11,252.24 209.50,254.77M229.70,291.49 231.10,294.01 232.50,296.54 233.90,299.06 235.30,301.58 236.71,304.10 238.11,306.62 239.52,309.14 240.93,311.66 242.34,314.18 243.75,316.70 245.16,319.22 246.58,321.74 247.99,324.25 249.41,326.77 250.83,329.28M271.61,365.75 273.05,368.26 274.50,370.77 275.95,373.27 277.40,375.77 278.85,378.28 280.30,380.78 281.76,383.28 283.21,385.78 284.67,388.28 286.13,390.77 287.59,393.27 289.06,395.76 290.52,398.26 291.99,400.75 293.46,403.24M282.50,384.55 283.96,387.05 285.42,389.55 286.88,392.05 288.34,394.54 289.81,397.04 291.27,399.54 292.74,402.03 294.21,404.52 295.69,407.01 297.16,409.51 298.64,412.00 300.12,414.48 301.60,416.97 303.08,419.46 304.57,421.94M326.40,457.95 327.92,460.42 329.45,462.90 330.97,465.36 332.50,467.83 334.03,470.30 335.57,472.77 337.10,475.23 338.64,477.69 340.18,480.15 341.73,482.61 343.27,485.07 344.82,487.53 346.37,489.98 347.92,492.43 349.48,494.89M372.40,530.39 374.00,532.82 375.60,535.26 377.21,537.69 378.82,540.12 380.43,542.55 382.04,544.97 383.66,547.40 385.28,549.82 386.90,552.24 388.53,554.66 390.16,557.08 391.79,559.49 393.42,561.91 395.06,564.32 396.70,566.73M420.91,601.58 422.61,603.96 424.30,606.35 426.00,608.73 427.71,611.11 429.41,613.49 431.12,615.87 432.83,618.24 434.55,620.61 436.27,622.98 437.99,625.35 439.72,627.72 441.45,630.08 443.18,632.44 444.91,634.80 446.65,637.15M472.35,671.18 474.15,673.51 475.95,675.83 477.75,678.16 479.56,680.48 481.38,682.79 483.19,685.11 485.02,687.42 486.84,689.73 488.67,692.03 490.50,694.34 492.33,696.64 494.17,698.94 496.01,701.23 497.86,703.52 499.71,705.81M527.05,738.83 528.96,741.09 530.88,743.34 532.81,745.59 534.73,747.83 536.66,750.08 538.60,752.32 540.54,754.55 542.48,756.79 544.42,759.02 546.37,761.24 548.33,763.47 550.28,765.69 552.25,767.90 554.21,770.12 556.18,772.33M551.17,766.69 553.13,768.91 555.10,771.12 557.08,773.34 559.06,775.55 561.04,777.75 563.02,779.95 565.01,782.15 567.01,784.35 569.00,786.54 571.01,788.73 573.01,790.92 575.02,793.10 577.03,795.28 579.05,797.45 581.07,799.62M610.85,830.77 612.93,832.89 615.02,835.00 617.10,837.11 619.20,839.21 621.29,841.31 623.39,843.41 625.49,845.50 627.60,847.59 629.71,849.68 631.82,851.76 633.94,853.83 636.06,855.91 638.19,857.98 640.32,860.04 642.45,862.10M673.87,891.61 676.06,893.60 678.26,895.60 680.46,897.59 682.66,899.58 684.87,901.56 687.08,903.54 689.29,905.51 691.51,907.48 693.73,909.45 695.96,911.41 698.19,913.37 700.42,915.32 702.65,917.27 704.89,919.22 707.14,921.16M740.13,948.89 742.43,950.76 744.74,952.63 747.04,954.50 749.35,956.36 751.66,958.22 753.98,960.07 756.30,961.92 758.62,963.77 760.95,965.61 763.28,967.44 765.61,969.28 767.95,971.10 770.29,972.93 772.63,974.75 774.98,976.56M809.45,1002.43 811.85,1004.18 814.25,1005.92 816.65,1007.66 819.06,1009.39 821.47,1011.12 823.88,1012.85 826.30,1014.57 828.72,1016.29 831.14,1018.00 833.57,1019.70 836.00,1021.41 838.43,1023.11 840.87,1024.80 843.31,1026.49 845.75,1028.18M881.55,1052.17 884.03,1053.79 886.52,1055.40 889.02,1057.01 891.51,1058.62 894.01,1060.22 896.51,1061.82 899.01,1063.41 901.52,1065.00 904.03,1066.58 906.54,1068.16 909.05,1069.73 911.57,1071.30 914.09,1072.87 916.61,1074.43 919.14,1075.99M956.10,1098.14 958.67,1099.64 961.24,1101.12 963.80,1102.61 966.38,1104.09 968.95,1105.56 971.53,1107.03 974.10,1108.50 976.68,1109.96 979.27,1111.42 981.85,1112.88 984.44,1114.33 987.03,1115.78 989.62,1117.22 992.22,1118.66 994.81,1120.09M1032.79,1140.48 1035.42,1141.85 1038.05,1143.22 1040.68,1144.58 1043.32,1145.94 1045.96,1147.30 1048.60,1148.65 1051.24,1150.00 1053.89,1151.34 1056.53,1152.68 1059.18,1154.02 1061.83,1155.35 1064.48,1156.68 1067.14,1158.01 1069.79,1159.33 1072.45,1160.65M1111.27,1179.37 1113.96,1180.63 1116.65,1181.89 1119.34,1183.14 1122.03,1184.39 1124.72,1185.63 1127.41,1186.88 1130.11,1188.11 1132.81,1189.35 1135.51,1190.58 1138.21,1191.81 1140.91,1193.03 1143.61,1194.25 1146.32,1195.47 1149.03,1196.68 1151.74,1197.89M1191.26,1215.07 1193.99,1216.23 1196.73,1217.38 1199.46,1218.53 1202.20,1219.68 1204.94,1220.82 1207.67,1221.96 1210.41,1223.10 1213.16,1224.23 1215.90,1225.36 1218.64,1226.49 1221.39,1227.61 1224.14,1228.73 1226.89,1229.85 1229.64,1230.96 1232.39,1232.07M1272.50,1247.85 1275.27,1248.91 1278.04,1249.97 1280.81,1251.02 1283.58,1252.07 1286.36,1253.12 1289.13,1254.17 1291.91,1255.21 1294.69,1256.26 1297.47,1257.29 1300.25,1258.33 1303.03,1259.36 1305.81,1260.39 1308.60,1261.41 1311.38,1262.44 1314.17,1263.46M1354.75,1277.96 1357.56,1278.93 1360.36,1279.91 1363.16,1280.88 1365.97,1281.84 1368.77,1282.81 1371.58,1283.77 1374.38,1284.73 1377.19,1285.69 1380.00,1286.64 1382.81,1287.60 1385.62,1288.54 1388.43,1289.49 1391.25,1290.44 1394.06,1291.38 1396.87,1292.32M1437.85,1305.66 1440.68,1306.56 1443.51,1307.46 1446.34,1308.35 1449.17,1309.24 1452.00,1310.13 1454.83,1311.02 1457.66,1311.90 1460.49,1312.79 1463.33,1313.67 1466.16,1314.54 1469.00,1315.42 1471.83,1316.29 1474.67,1317.16 1477.50,1318.03 1480.34,1318.89M1521.65,1331.20 1524.49,1332.03 1527.34,1332.86 1530.19,1333.69 1533.04,1334.51 1535.89,1335.33 1538.74,1336.15 1541.60,1336.97 1544.45,1337.78 1547.30,1338.59 1550.16,1339.40 1553.01,1340.21 1555.87,1341.02 1558.72,1341.82 1561.58,1342.62 1564.44,1343.42M1606.01,1354.80 1608.87,1355.57 1611.74,1356.34 1614.60,1357.10 1617.47,1357.86 1620.34,1358.62 1623.21,1359.38 1626.08,1360.13 1628.95,1360.89 1631.81,1361.64 1634.69,1362.39 1637.56,1363.14 1640.43,1363.88 1643.30,1364.63 1646.17,1365.37 1649.04,1366.11M1690.83,1376.66 1693.71,1377.37 1696.59,1378.08 1699.48,1378.79 1702.36,1379.49 1705.24,1380.20 1708.12,1380.90 1711.00,1381.60 1713.89,1382.30 1716.77,1383.00 1719.65,1383.70 1722.54,1384.39 1725.42,1385.08 1728.31,1385.77 1731.19,1386.46 1734.08,1387.15M1776.05,1396.95 1778.94,1397.61 1781.83,1398.27 1784.73,1398.93 1787.62,1399.58 1790.51,1400.24 1793.41,1400.89 1796.30,1401.54 1799.20,1402.20 1802.09,1402.84 1804.99,1403.49 1807.88,1404.14 1810.78,1404.78 1813.67,1405.42 1816.57,1406.07 1819.47,1406.71M1861.59,1415.83 1864.49,1416.44 1867.39,1417.06 1870.30,1417.67 1873.20,1418.29 1876.10,1418.90 1879.01,1419.51 1881.91,1420.11 1884.81,1420.72 1887.72,1421.33 1890.62,1421.93 1893.53,1422.53 1896.43,1423.13 1899.34,1423.73 1902.24,1424.33 1905.15,1424.93M1947.40,1433.44 1950.31,1434.02 1953.22,1434.59 1956.13,1435.17 1959.04,1435.74 1961.95,1436.31 1964.87,1436.88 1967.78,1437.45 1970.69,1438.01 1973.60,1438.58 1976.51,1439.14 1979.43,1439.71 1982.34,1440.27 1985.25,1440.83 1988.17,1441.39 1991.08,1441.95M2033.44,1449.91 2036.36,1450.45 2039.27,1450.99 2042.19,1451.53 2045.11,1452.06 2048.03,1452.60 2050.94,1453.13 2053.86,1453.66 2056.78,1454.19 2059.70,1454.72 2062.62,1455.25 2065.54,1455.78 2068.46,1456.31 2071.38,1456.83 2074.30,1457.35 2077.22,1457.88M2119.67,1465.35 2122.59,1465.86 2125.51,1466.36 2128.44,1466.86 2131.36,1467.37 2134.28,1467.87 2137.21,1468.37 2140.13,1468.87 2143.06,1469.37 2145.98,1469.86 2148.91,1470.36 2151.83,1470.86 2154.76,1471.35 2157.68,1471.84 2160.61,1472.34 2163.53,1472.83M2206.06,1479.85 2208.99,1480.32 2211.91,1480.80 2214.84,1481.27 2217.77,1481.74 2220.70,1482.22 2223.63,1482.69 2226.56,1483.16 2229.49,1483.63 2232.42,1484.09 2235.35,1484.56 2238.28,1485.03 2241.21,1485.49 2244.14,1485.96 2247.07,1486.42 2250.00,1486.88M2292.59,1493.50 2295.52,1493.94 2298.45,1494.39 2301.39,1494.84 2304.32,1495.28 2307.25,1495.73 2310.19,1496.17 2313.12,1496.61 2316.05,1497.06 2318.99,1497.50 2321.92,1497.94 2324.85,1498.38 2327.79,1498.82 2330.72,1499.25 2333.66,1499.69 2336.59,1500.13M2379.24,1506.37 2382.05,1506.77 2384.87,1507.18 2387.69,1507.58 2390.51,1507.99 2393.33,1508.39 2396.14,1508.79 2398.96,1509.19 2401.78,1509.59 2404.60,1509.99 2407.42,1510.39 2410.23,1510.79 2413.05,1511.19 2415.87,1511.59 2418.69,1511.98 2421.51,1512.38" stroke="#f00" stroke-width="4.85"/>
<path d="M173.50,704.77 173.93,706.55 174.36,708.32M181.05,735.41 181.64,737.76 182.23,740.11M189.12,767.15 189.72,769.50 190.33,771.84M197.42,798.83 198.05,801.17 198.67,803.51M205.99,830.44 206.63,832.78 207.28,835.11M214.82,861.97 215.49,864.31 216.16,866.64M223.95,893.43 224.64,895.75 225.33,898.08M233.39,924.79 234.10,927.11 234.81,929.42M243.15,956.05 243.89,958.36 244.62,960.67M253.26,987.20 254.02,989.50 254.79,991.80M263.75,1018.22 264.54,1020.52 265.33,1022.81M274.62,1049.11 275.45,1051.40 276.27,1053.68M285.93,1079.85 286.78,1082.12 287.64,1084.39M297.68,1110.42 298.57,1112.68 299.46,1114.93M309.91,1140.80 310.83,1143.04 311.76,1145.28M322.64,1170.97 323.61,1173.20 324.58,1175.42M335.93,1200.91 336.93,1203.11 337.94,1205.32M349.78,1230.58 350.83,1232.77 351.89,1234.95M364.25,1259.96 365.35,1262.12 366.45,1264.28M379.37,1289.01 380.52,1291.15 381.67,1293.28M395.17,1317.70 396.37,1319.81 397.57,1321.91M411.69,1345.98 412.94,1348.05 414.20,1350.13M428.96,1373.80 430.27,1375.84 431.58,1377.88M447.02,1401.12 448.39,1403.12 449.76,1405.12M465.88,1427.89 467.31,1429.85 468.75,1431.80M485.59,1454.05 487.08,1455.96 488.58,1457.87M506.14,1479.54 507.70,1481.40 509.26,1483.26M527.55,1504.32 529.17,1506.12 530.80,1507.92M549.83,1528.33 551.51,1530.07 553.20,1531.81M572.95,1551.52 574.69,1553.20 576.44,1554.88M596.90,1573.85 598.71,1575.47 600.52,1577.08M621.66,1595.29 623.52,1596.84 625.39,1598.38M647.18,1615.81 649.10,1617.29 651.02,1618.77M673.43,1635.39 675.40,1636.81 677.37,1638.21M700.35,1654.04 702.37,1655.38 704.39,1656.72M727.89,1671.75 729.95,1673.03 732.02,1674.30M756.00,1688.55 758.11,1689.76 760.21,1690.96M784.63,1704.45 786.77,1705.59 788.92,1706.73M813.73,1719.48 815.90,1720.56 818.07,1721.64M843.24,1733.68 845.44,1734.70 847.64,1735.72M873.12,1747.09 875.35,1748.05 877.57,1749.01M903.33,1759.74 905.58,1760.65 907.83,1761.55M933.82,1771.68 936.09,1772.53 938.36,1773.39M964.57,1782.94 966.86,1783.75 969.15,1784.56M995.55,1793.58 997.85,1794.35 1000.15,1795.11M1026.72,1803.63 1029.03,1804.35 1031.35,1805.07M1058.06,1813.13 1060.38,1813.81 1062.71,1814.49M1089.55,1822.12 1091.89,1822.76 1094.23,1823.41M1121.18,1830.62 1123.52,1831.23 1125.87,1831.84M1152.92,1838.68 1155.27,1839.26 1157.63,1839.84M1184.76,1846.32 1187.13,1846.87 1189.49,1847.42M1216.70,1853.58 1219.07,1854.10 1221.44,1854.62M1248.72,1860.47 1251.09,1860.97 1253.46,1861.46M1280.80,1867.02 1283.18,1867.50 1285.56,1867.97M1312.95,1873.26 1315.34,1873.71 1317.72,1874.16M1345.16,1879.21 1347.55,1879.64 1349.93,1880.07M1377.42,1884.88 1379.81,1885.29 1382.20,1885.70M1409.71,1890.29 1412.11,1890.68 1414.50,1891.07M1442.05,1895.47 1444.45,1895.84 1446.85,1896.21M1474.43,1900.41 1476.83,1900.77 1479.22,1901.13M1506.83,1905.15 1509.23,1905.49 1511.63,1905.83M1539.27,1909.69 1541.67,1910.02 1544.07,1910.34M1571.73,1914.04 1574.13,1914.35 1576.54,1914.67M1604.21,1918.21 1606.62,1918.52 1609.02,1918.82M1636.71,1922.23 1639.12,1922.52 1641.53,1922.81M1669.23,1926.08 1671.64,1926.36 1674.05,1926.64M1701.77,1929.79 1704.18,1930.06 1706.59,1930.33M1734.33,1933.36 1736.74,1933.62 1739.15,1933.88M1766.90,1936.80 1769.31,1937.05 1771.72,1937.30M1799.48,1940.12 1801.89,1940.36 1804.31,1940.60M1832.07,1943.32 1834.49,1943.55 1836.90,1943.78M1864.68,1946.40 1867.09,1946.63 1869.51,1946.85M1897.29,1949.39 1899.71,1949.60 1902.12,1949.82M1929.91,1952.27 1932.33,1952.48 1934.75,1952.69M1962.54,1955.06 1964.96,1955.26 1967.38,1955.47M1995.18,1957.76 1997.60,1957.95 2000.02,1958.15M2027.83,1960.37 2030.25,1960.56 2032.66,1960.75M2060.48,1962.90 2062.90,1963.09 2065.32,1963.27M2093.14,1965.36 2095.56,1965.53 2097.98,1965.71M2125.80,1967.74 2128.22,1967.91 2130.64,1968.08M2158.47,1970.04 2160.89,1970.21 2163.31,1970.38M2191.14,1972.29 2193.56,1972.45 2195.98,1972.61M2223.82,1974.46 2226.24,1974.62 2228.66,1974.78M2256.50,1976.58 2258.92,1976.73 2261.34,1976.89M2289.19,1978.63 2291.61,1978.78 2294.03,1978.93M2321.88,1980.63 2324.30,1980.78 2326.72,1980.92M2354.57,1982.58 2356.99,1982.72 2359.41,1982.86M2387.26,1984.47 2389.69,1984.61 2392.11,1984.75M2419.96,1986.32 2421.51,1986.40" stroke="#0f0" stroke-width="15.8"/>
<path d="M173.50,417.22 174.30,419.52 175.09,421.81M184.38,448.17 185.19,450.45 186.01,452.74M188.82,460.57 189.65,462.85 190.47,465.13M200.10,491.37 200.94,493.64 201.79,495.91M211.67,522.06 212.54,524.32 213.41,526.58M223.57,552.62 224.46,554.88 225.35,557.13M235.80,583.06 236.72,585.30 237.64,587.55M248.39,613.34 249.33,615.58 250.28,617.81M261.36,643.47 262.33,645.69 263.31,647.91M274.72,673.42 275.73,675.63 276.74,677.84M288.51,703.18 289.55,705.38 290.59,707.57M302.75,732.73 303.82,734.91 304.89,737.08M317.45,762.05 318.56,764.21 319.66,766.37M332.64,791.12 333.79,793.26 334.93,795.40M348.35,819.92 349.53,822.03 350.72,824.15M364.60,848.41 365.82,850.50 367.05,852.59M381.41,876.57 382.68,878.64 383.95,880.71M398.81,904.38 400.12,906.42 401.43,908.46M416.81,931.80 418.16,933.81 419.52,935.81M435.44,958.79 436.84,960.77 438.24,962.75M454.71,985.33 456.16,987.28 457.61,989.22M474.63,1011.39 476.13,1013.29 477.63,1015.20M495.22,1036.92 496.77,1038.79 498.32,1040.65M516.48,1061.90 518.08,1063.72 519.68,1065.54M538.41,1086.28 540.06,1088.06 541.71,1089.84M561.02,1110.05 562.71,1111.78 564.42,1113.51M584.28,1133.17 586.03,1134.85 587.78,1136.53M608.19,1155.62 609.99,1157.25 611.79,1158.88M632.74,1177.37 634.58,1178.95 636.42,1180.53M657.89,1198.42 659.78,1199.95 661.66,1201.47M683.63,1218.75 685.56,1220.22 687.49,1221.69M709.93,1238.35 711.89,1239.77 713.86,1241.19M736.75,1257.23 738.75,1258.60 740.76,1259.96M764.07,1275.39 766.10,1276.70 768.14,1278.01M791.84,1292.83 793.91,1294.09 795.98,1295.35M820.04,1309.58 822.15,1310.79 824.25,1311.99M848.64,1325.63 850.77,1326.80 852.90,1327.95M877.61,1341.03 879.76,1342.14 881.92,1343.25M906.90,1355.78 909.08,1356.84 911.26,1357.90M936.50,1369.91 938.70,1370.93 940.90,1371.94M966.38,1383.44 968.60,1384.41 970.82,1385.39M996.51,1396.39 998.75,1397.33 1000.99,1398.26M1026.87,1408.81 1029.13,1409.70 1031.38,1410.60M1057.44,1420.70 1059.71,1421.56 1061.98,1422.41M1088.20,1432.09 1090.48,1432.91 1092.76,1433.73M1119.13,1443.01 1121.42,1443.80 1123.71,1444.59M1150.21,1453.48 1152.51,1454.24 1154.82,1455.00M1181.43,1463.53 1183.75,1464.26 1186.06,1464.98M1212.78,1473.18 1215.10,1473.87 1217.43,1474.57M1244.25,1482.44 1246.58,1483.11 1248.91,1483.78M1275.82,1491.34 1278.15,1491.98 1280.49,1492.62M1307.48,1499.89 1309.82,1500.51 1312.17,1501.13M1339.23,1508.13 1341.58,1508.72 1343.93,1509.32M1371.06,1516.05 1373.41,1516.62 1375.77,1517.20M1402.96,1523.68 1405.32,1524.24 1407.68,1524.79M1434.92,1531.04 1437.29,1531.57 1439.65,1532.10M1466.95,1538.13 1469.32,1538.65 1471.69,1539.16M1499.02,1544.98 1501.40,1545.47 1503.77,1545.97M1531.15,1551.58 1533.53,1552.06 1535.91,1552.54M1563.32,1557.97 1565.70,1558.43 1568.09,1558.89M1595.54,1564.14 1597.92,1564.59 1600.31,1565.04M1627.79,1570.11 1630.18,1570.54 1632.56,1570.98M1660.08,1575.89 1662.47,1576.31 1664.85,1576.72M1692.40,1581.48 1694.79,1581.89 1697.18,1582.29M1724.75,1586.90 1727.14,1587.29 1729.53,1587.68M1757.12,1592.15 1759.52,1592.53 1761.91,1592.91M1789.53,1597.24 1791.92,1597.61 1794.32,1597.98M1821.95,1602.19 1824.35,1602.55 1826.75,1602.90M1854.40,1606.98 1856.80,1607.33 1859.20,1607.68M1886.87,1611.65 1889.27,1611.98 1891.67,1612.32M1919.35,1616.17 1921.75,1616.50 1924.16,1616.83M1951.85,1620.58 1954.26,1620.90 1956.66,1621.22M1984.37,1624.86 1986.78,1625.17 1989.18,1625.48M2016.91,1629.03 2019.31,1629.33 2021.72,1629.63M2049.46,1633.08 2051.86,1633.38 2054.27,1633.67M2082.02,1637.03 2084.42,1637.32 2086.83,1637.61M2114.59,1640.88 2117.00,1641.16 2119.41,1641.44M2147.17,1644.63 2149.58,1644.91 2151.99,1645.18M2179.77,1648.29 2182.18,1648.56 2184.59,1648.83M2212.38,1651.86 2214.79,1652.12 2217.20,1652.38M2244.99,1655.34 2247.40,1655.60 2249.81,1655.85M2277.61,1658.74 2280.03,1658.99 2282.44,1659.24M2310.25,1662.06 2312.66,1662.30 2315.07,1662.54M2342.88,1665.30 2345.30,1665.54 2347.71,1665.77M2375.53,1668.47 2377.95,1668.70 2380.36,1668.93M2408.19,1671.57 2410.60,1671.79 2413.01,1672.02" stroke="#00f" stroke-width="15.8"/>
<path d="M173.50,176.72 174.77,178.73 176.04,180.73M188.31,199.90 189.60,201.90 190.89,203.89M205.97,226.81 207.30,228.79 208.62,230.77M224.06,253.50 225.42,255.47 226.77,257.43M242.60,279.97 243.99,281.91 245.38,283.86M261.61,306.17 263.03,308.10 264.46,310.02M281.12,332.09 282.58,333.99 284.05,335.89M301.16,357.69 302.66,359.57 304.17,361.45M321.75,382.96 323.29,384.82 324.84,386.67M342.90,407.86 344.49,409.69 346.08,411.51M364.65,432.36 366.29,434.15 367.92,435.95M386.97,456.39 388.65,458.15 390.32,459.90M409.84,479.90 411.56,481.62 413.27,483.34M433.27,502.87 435.02,504.54 436.78,506.21M457.24,525.25 459.03,526.89 460.83,528.51M481.75,547.05 483.58,548.63 485.42,550.22M506.79,568.23 508.66,569.77 510.54,571.31M532.35,588.78 534.26,590.28 536.17,591.77M558.41,608.70 560.36,610.15 562.31,611.59M584.95,627.97 586.93,629.37 588.91,630.77M611.94,646.60 613.96,647.95 615.97,649.30M639.37,664.59 641.42,665.89 643.46,667.19M667.21,681.94 669.28,683.19 671.36,684.45M695.43,698.66 697.53,699.87 699.63,701.08M724.00,714.76 726.13,715.93 728.25,717.09M752.91,730.26 755.05,731.38 757.21,732.50M782.12,745.18 784.29,746.26 786.46,747.33M811.61,759.53 813.80,760.56 816.00,761.60M841.37,773.33 843.58,774.33 845.79,775.32M871.36,786.60 873.59,787.56 875.81,788.52M901.57,799.37 903.81,800.29 906.06,801.21M931.99,811.65 934.24,812.54 936.50,813.43M962.58,823.47 964.85,824.32 967.12,825.18M993.35,834.84 995.63,835.66 997.91,836.49M1024.27,845.79 1026.56,846.58 1028.85,847.38M1055.32,856.34 1057.62,857.10 1059.93,857.87M1086.51,866.50 1088.82,867.24 1091.13,867.97M1117.81,876.30 1120.13,877.01 1122.45,877.72M1149.22,885.75 1151.55,886.43 1153.87,887.12M1180.73,894.87 1183.06,895.53 1185.39,896.19M1212.32,903.67 1214.66,904.31 1217.00,904.95M1244.00,912.18 1246.35,912.79 1248.69,913.41M1275.75,920.40 1278.11,920.99 1280.46,921.59M1307.58,928.34 1309.93,928.92 1312.29,929.50M1339.46,936.04 1341.82,936.59 1344.18,937.15M1371.41,943.48 1373.77,944.02 1376.13,944.56M1403.40,950.69 1405.77,951.22 1408.14,951.74M1435.45,957.68 1437.82,958.19 1440.19,958.70M1467.54,964.46 1469.92,964.95 1472.29,965.44M1499.68,971.03 1502.05,971.51 1504.43,971.99M1531.85,977.41 1534.23,977.88 1536.61,978.34M1564.06,983.61 1566.44,984.06 1568.82,984.51M1596.30,989.63 1598.69,990.07 1601.07,990.51M1628.58,995.49 1630.96,995.91 1633.35,996.34M1660.88,1001.18 1663.27,1001.59 1665.66,1002.01M1693.21,1006.72 1695.60,1007.12 1697.99,1007.52M1725.56,1012.11 1727.95,1012.50 1730.35,1012.89M1757.94,1017.36 1760.33,1017.74 1762.73,1018.12M1790.34,1022.47 1792.73,1022.85 1795.13,1023.22M1822.75,1027.46 1825.15,1027.82 1827.55,1028.19M1855.19,1032.32 1857.59,1032.68 1859.99,1033.03M1887.65,1037.07 1890.05,1037.41 1892.45,1037.76M1920.12,1041.69 1922.52,1042.03 1924.92,1042.37M1952.61,1046.21 1955.01,1046.54 1957.41,1046.87M1985.11,1050.63 1987.51,1050.95 1989.91,1051.27M2017.62,1054.94 2020.03,1055.25 2022.43,1055.57M2050.15,1059.15 2052.56,1059.46 2054.96,1059.77M2082.69,1063.27 2085.10,1063.57 2087.50,1063.87M2115.24,1067.30 2117.65,1067.60 2120.06,1067.89M2147.81,1071.24 2150.21,1071.53 2152.62,1071.82M2180.38,1075.10 2182.79,1075.38 2185.19,1075.67M2212.96,1078.88 2215.37,1079.15 2217.78,1079.43M2245.55,1082.58 2247.96,1082.85 2250.37,1083.12M2278.15,1086.20 2280.56,1086.46 2282.97,1086.73M2310.76,1089.75 2313.17,1090.01 2315.58,1090.27M2343.37,1093.23 2345.78,1093.48 2348.20,1093.74M2375.99,1096.64 2378.41,1096.89 2380.82,1097.14M2408.62,1099.98 2411.04,1100.23 2413.45,1100.47" stroke="#f00" stroke-width="15.8"/>
<circle cx="508.31" cy="1784.86" r="27.65" stroke="#0f0" stroke-width="4.85"/>
<circle cx="508.31" cy="1309.98" r="27.65" stroke="#00f" stroke-width="4.85"/>
<circle cx="508.31" cy="716.37" r="27.65" stroke="#f00" stroke-width="4.85"/>
</g>
<g font-family="'Liberation Sans', Arial, sans-serif" font-size="73.6" fill="#000" style="font-kerning:none" filter="url(#bin)">
<text transform="translate(269.16,2268.90) scale(1,1.036)" text-anchor="middle">0.5</text>
<text transform="translate(508.31,2268.90) scale(1,1.036)" text-anchor="middle">1</text>
<text transform="translate(747.46,2268.90) scale(1,1.036)" text-anchor="middle">1.5</text>
<text transform="translate(986.61,2268.90) scale(1,1.036)" text-anchor="middle">2</text>
<text transform="translate(1225.76,2268.90) scale(1,1.036)" text-anchor="middle">2.5</text>
<text transform="translate(1464.91,2268.90) scale(1,1.036)" text-anchor="middle">3</text>
<text transform="translate(1704.06,2268.90) scale(1,1.036)" text-anchor="middle">3.5</text>
<text transform="translate(1943.21,2268.90) scale(1,1.036)" text-anchor="middle">4</text>
<text transform="translate(2182.36,2268.90) scale(1,1.036)" text-anchor="middle">4.5</text>
<text transform="translate(2421.51,2268.90) scale(1,1.036)" text-anchor="middle">5</text>
<text transform="translate(111.74,2207.60) scale(1,1.036)">0</text>
<text transform="translate(154.50,1982.03) scale(1,1.036)" text-anchor="end">0.1</text>
<text transform="translate(154.50,1756.46) scale(1,1.036)" text-anchor="end">0.2</text>
<text transform="translate(154.50,1530.89) scale(1,1.036)" text-anchor="end">0.3</text>
<text transform="translate(154.50,1305.32) scale(1,1.036)" text-anchor="end">0.4</text>
<text transform="translate(154.50,1079.75) scale(1,1.036)" text-anchor="end">0.5</text>
<text transform="translate(154.50,854.18) scale(1,1.036)" text-anchor="end">0.6</text>
<text transform="translate(154.50,628.61) scale(1,1.036)" text-anchor="end">0.7</text>
<text transform="translate(154.50,403.04) scale(1,1.036)" text-anchor="end">0.8</text>
<text transform="translate(154.50,177.47) scale(1,1.036)" text-anchor="end">0.9</text>
</g>
<g font-family="'Liberation Sans', Arial, sans-serif" font-size="73.1" fill="#000" style="font-kerning:none" filter="url(#bin)">
<text transform="translate(934.09,2355.80) scale(1,1.05)">Coefficient of variation</text>
</g>
<g font-family="'Liberation Sans', Arial, sans-serif" font-size="72.4" fill="#000" style="font-kerning:none" filter="url(#bin)">
<text transform="translate(899.02,96.90) scale(1,1.0346534653465347)" font-size="73.12">4&#8722;out&#8722;of&#8722;6</text>
<text transform="translate(1289.29,96.90) scale(1,1.045)">:</text>
<text transform="translate(1326.77,96.90) scale(1,1.045)" font-style="italic">F</text>
<text transform="translate(1390.03,96.90) scale(1,1.045)">&#8722;</text>
<text transform="translate(1454.08,96.90) scale(1,1.045)">system</text>
</g>
<g shape-rendering="crispEdges">
<rect x="1741.5" y="188.5" width="644.5" height="710" fill="#fff" stroke="none"/>
<path d="M1741.5,186V901M2386,186V901" stroke="#000" stroke-width="5"/>
<path d="M1739,188.5H2388M1739,898.5H2388" stroke="#000" stroke-width="5"/>
<path d="M1782.9,267.5H1996.1" stroke="#0f0" stroke-width="5"/>
<path d="M1782.9,405.5H1996.1" stroke="#00f" stroke-width="5"/>
<path d="M1782.9,542.5H1996.1" stroke="#f00" stroke-width="5"/>
<path d="M1782.9,678.8H1996.1" stroke="#f0f" stroke-width="15.8" stroke-dasharray="45 42.6"/>
<path d="M1782.9,817.0H1996.1" stroke="#0ff" stroke-width="15.8" stroke-dasharray="45 42.6"/>
</g>
<g font-family="'Liberation Sans', Arial, sans-serif" fill="#000" style="font-kerning:none" filter="url(#bin)">
<text transform="translate(2019.76,284.90) scale(1,1.0400)" font-size="88.2">M</text>
<text transform="translate(2088.68,320.00) scale(1,1.0400)" font-size="65.7">1</text>
<text transform="translate(2127.00,284.90) scale(1,0.9776)" font-size="88.2">/</text>
<text transform="translate(2150.66,284.90) scale(1,1.0400)" font-size="88.2">M</text>
<text transform="translate(2223.03,320.00) scale(1,1.0400)" font-size="65.7">0</text>
<text transform="translate(2019.76,422.80) scale(1,1.0400)" font-size="88.2">M</text>
<text transform="translate(2091.23,457.90) scale(1,1.0400)" font-size="65.7">2</text>
<text transform="translate(2127.00,422.80) scale(1,0.9776)" font-size="88.2">/</text>
<text transform="translate(2150.66,422.80) scale(1,1.0400)" font-size="88.2">M</text>
<text transform="translate(2223.03,457.90) scale(1,1.0400)" font-size="65.7">0</text>
<text transform="translate(2019.76,560.20) scale(1,1.0400)" font-size="88.2">M</text>
<text transform="translate(2092.42,595.30) scale(1,1.0400)" font-size="65.7">3</text>
<text transform="translate(2127.00,560.20) scale(1,0.9776)" font-size="88.2">/</text>
<text transform="translate(2150.66,560.20) scale(1,1.0400)" font-size="88.2">M</text>
<text transform="translate(2223.03,595.30) scale(1,1.0400)" font-size="65.7">0</text>
<text transform="translate(2020.32,696.50) scale(1,0.9880)" font-size="88.2">b</text>
<text transform="translate(2067.72,731.60) scale(1,1.0400)" font-size="65.7">i</text>
<text transform="translate(2081.30,696.50) scale(1,0.9776)" font-size="88.2">/</text>
<text transform="translate(2105.92,696.50) scale(1,0.9880)" font-size="88.2">b</text>
<text transform="translate(2153.43,731.60) scale(1,1.0400)" font-size="65.7">0</text>
<text transform="translate(2188.49,696.50) scale(1,1.0400)" font-size="88.2">=</text>
<text transform="translate(2239.45,696.50) scale(1,1.0400)" font-size="88.2">0</text>
<text transform="translate(2287.55,696.50) scale(1,1.0400)" font-size="88.2">.</text>
<text transform="translate(2312.87,696.50) scale(1,1.0400)" font-size="88.2">5</text>
<text transform="translate(2020.32,834.60) scale(1,0.9880)" font-size="88.2">b</text>
<text transform="translate(2067.72,869.70) scale(1,1.0400)" font-size="65.7">i</text>
<text transform="translate(2081.30,834.60) scale(1,0.9776)" font-size="88.2">/</text>
<text transform="translate(2105.92,834.60) scale(1,0.9880)" font-size="88.2">b</text>
<text transform="translate(2153.43,869.70) scale(1,1.0400)" font-size="65.7">0</text>
<text transform="translate(2188.49,834.60) scale(1,1.0400)" font-size="88.2">=</text>
<text transform="translate(2239.45,834.60) scale(1,1.0400)" font-size="88.2">0</text>
<text transform="translate(2287.55,834.60) scale(1,1.0400)" font-size="88.2">.</text>
<text transform="translate(2310.56,834.60) scale(1,1.0400)" font-size="88.2">2</text>
</g>
</svg>
</body></html>
